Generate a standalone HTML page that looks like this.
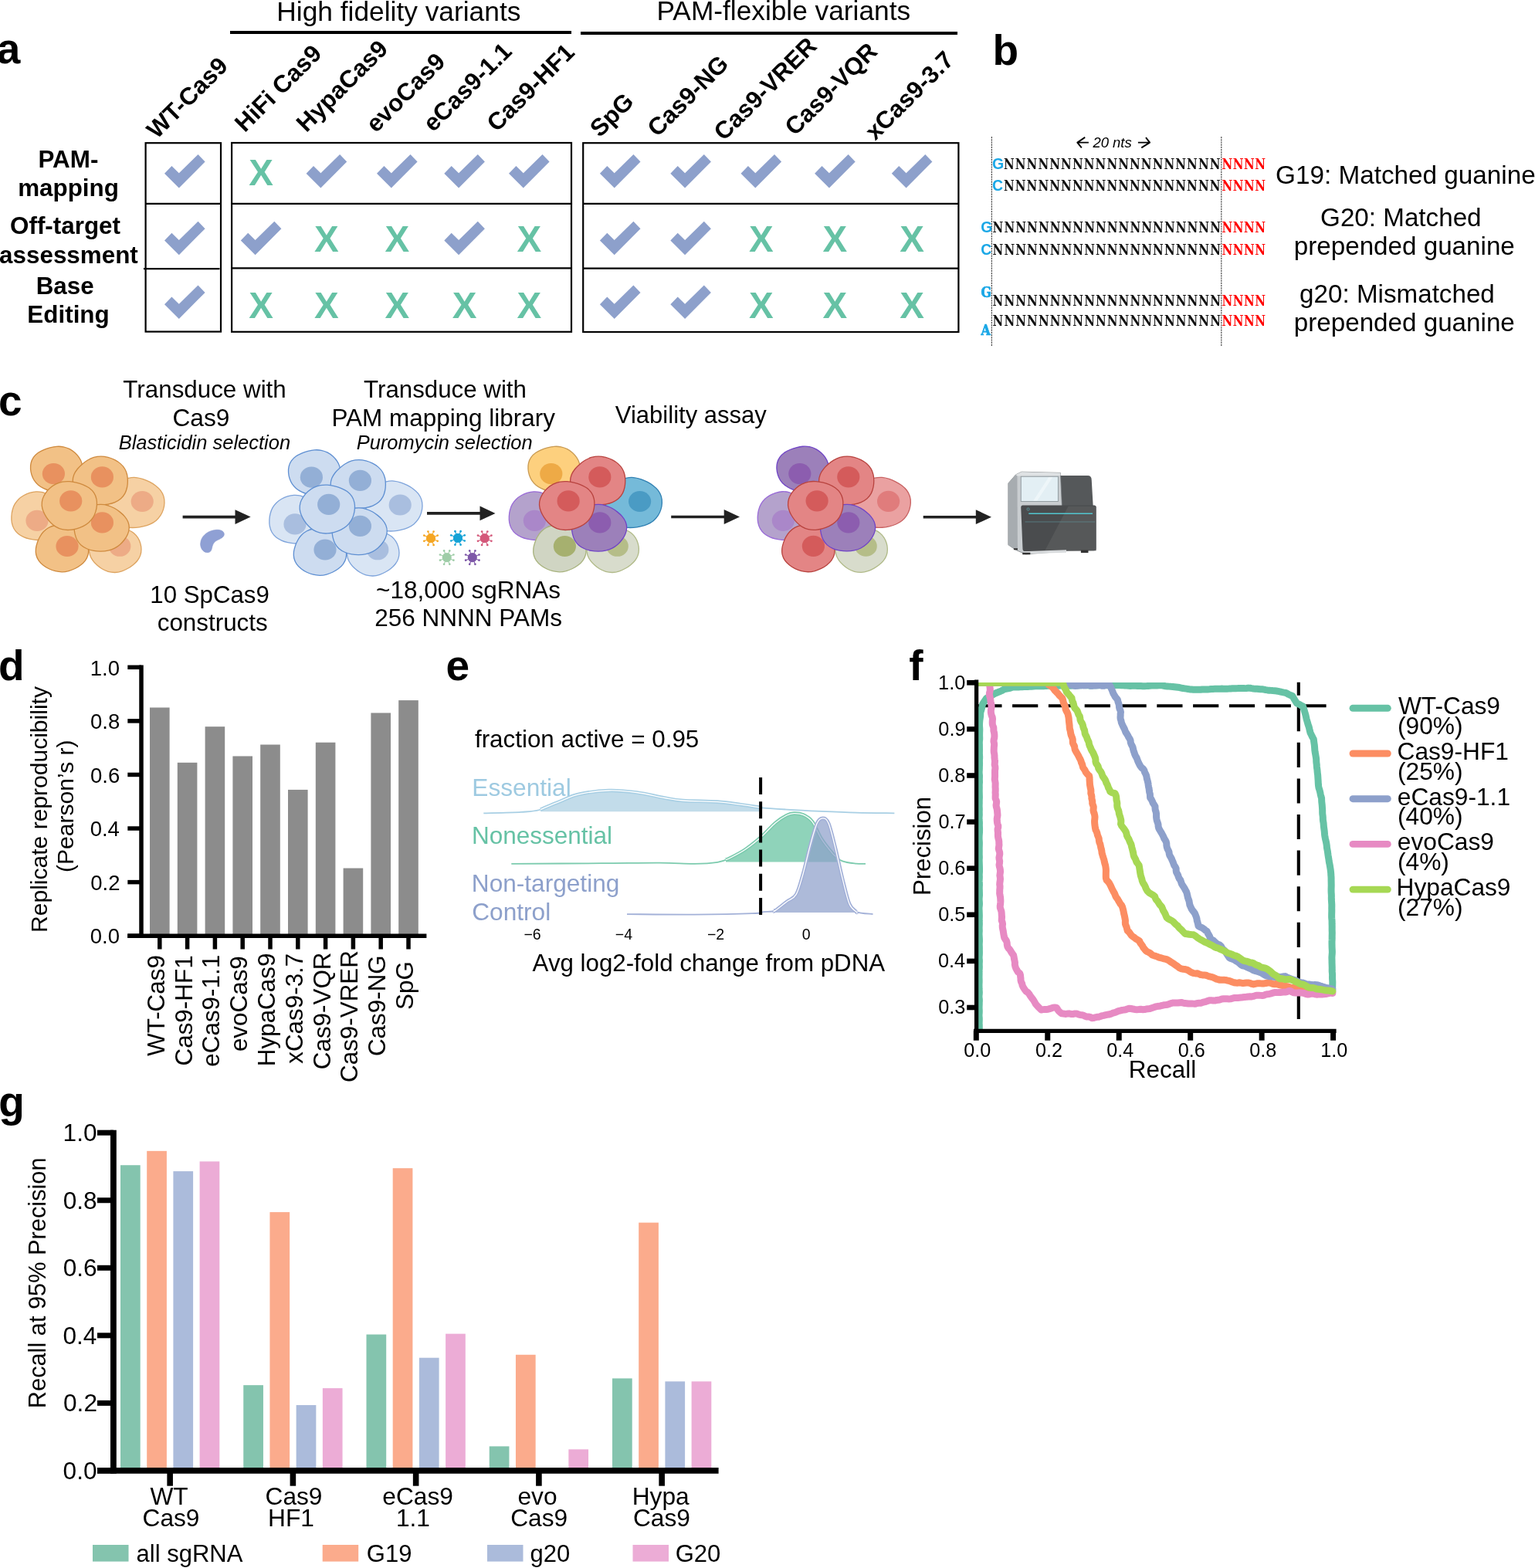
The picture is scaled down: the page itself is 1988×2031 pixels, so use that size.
<!DOCTYPE html>
<html><head><meta charset="utf-8"><title>Figure</title>
<style>
html,body{margin:0;padding:0;background:#fff;}
svg{display:block;}
</style></head>
<body>
<svg width="1988" height="2031" viewBox="0 0 1988 2031" font-family="'Liberation Sans', Arial, sans-serif">
<rect x="0" y="0" width="1988" height="2031" fill="#fff"/>
<text x="-4.30" y="82.10" font-size="55.00" font-weight="bold" fill="#000">a</text>
<text x="358.27" y="26.80" font-size="35.33" fill="#000">High fidelity variants</text>
<text x="850.48" y="25.80" font-size="35.27" fill="#000">PAM-flexible variants</text>
<line x1="298.00" y1="42.00" x2="740.00" y2="42.00" stroke="#000" stroke-width="4"/>
<line x1="752.00" y1="43.00" x2="1240.00" y2="43.00" stroke="#000" stroke-width="4"/>
<rect x="188.6" y="185.2" width="97.4" height="244.4" fill="none" stroke="#000" stroke-width="2.2"/>
<rect x="300.1" y="185.0" width="439.9" height="244.8" fill="none" stroke="#000" stroke-width="2.2"/>
<rect x="755.2" y="185.2" width="486.2" height="244.8" fill="none" stroke="#000" stroke-width="2.2"/>
<line x1="188.60" y1="263.80" x2="286.00" y2="263.80" stroke="#000" stroke-width="2.2"/>
<line x1="186.00" y1="348.20" x2="284.50" y2="348.20" stroke="#000" stroke-width="2.2"/>
<line x1="300.10" y1="263.80" x2="740.00" y2="263.80" stroke="#000" stroke-width="2.2"/>
<line x1="300.10" y1="347.40" x2="740.00" y2="347.40" stroke="#000" stroke-width="2.2"/>
<line x1="755.20" y1="263.80" x2="1241.40" y2="263.80" stroke="#000" stroke-width="2.2"/>
<line x1="755.20" y1="347.60" x2="1241.40" y2="347.60" stroke="#000" stroke-width="2.2"/>
<text x="49.46" y="216.60" font-size="31.40" font-weight="bold" fill="#000">PAM-</text>
<text x="23.16" y="254.00" font-size="31.40" font-weight="bold" fill="#000">mapping</text>
<text x="13.04" y="302.80" font-size="31.40" font-weight="bold" fill="#000">Off-target</text>
<text x="-0.94" y="340.60" font-size="31.40" font-weight="bold" fill="#000">assessment</text>
<text x="46.66" y="381.00" font-size="31.40" font-weight="bold" fill="#000">Base</text>
<text x="35.36" y="418.00" font-size="31.40" font-weight="bold" fill="#000">Editing</text>
<text x="203.00" y="181.00" font-size="31.40" font-weight="bold" fill="#000" transform="rotate(-45 203.00 181.00)">WT-Cas9</text>
<text x="317.10" y="172.40" font-size="31.40" font-weight="bold" fill="#000" transform="rotate(-45 317.10 172.40)">HiFi Cas9</text>
<text x="396.70" y="172.40" font-size="31.40" font-weight="bold" fill="#000" transform="rotate(-45 396.70 172.40)">HypaCas9</text>
<text x="487.00" y="173.00" font-size="31.40" font-weight="bold" fill="#000" transform="rotate(-45 487.00 173.00)">evoCas9</text>
<text x="561.00" y="172.00" font-size="31.40" font-weight="bold" fill="#000" transform="rotate(-45 561.00 172.00)">eCas9-1.1</text>
<text x="643.50" y="172.00" font-size="31.40" font-weight="bold" fill="#000" transform="rotate(-45 643.50 172.00)">Cas9-HF1</text>
<text x="777.00" y="179.00" font-size="31.40" font-weight="bold" fill="#000" transform="rotate(-45 777.00 179.00)">SpG</text>
<text x="851.50" y="178.50" font-size="31.40" font-weight="bold" fill="#000" transform="rotate(-45 851.50 178.50)">Cas9-NG</text>
<text x="937.50" y="183.50" font-size="31.40" font-weight="bold" fill="#000" transform="rotate(-45 937.50 183.50)">Cas9-VRER</text>
<text x="1029.50" y="177.00" font-size="31.40" font-weight="bold" fill="#000" transform="rotate(-45 1029.50 177.00)">Cas9-VQR</text>
<text x="1133.50" y="183.00" font-size="31.40" font-weight="bold" fill="#000" transform="rotate(-45 1133.50 183.00)">xCas9-3.7</text>
<polygon points="213.00,224.80 222.40,215.10 231.80,224.30 256.50,200.10 265.60,209.50 231.80,243.50" fill="#8DA0CB"/>
<text x="322.31" y="240.39" font-size="47.50" font-weight="bold" fill="#66C2A5">X</text>
<polygon points="396.60,224.80 406.00,215.10 415.40,224.30 440.10,200.10 449.20,209.50 415.40,243.50" fill="#8DA0CB"/>
<polygon points="488.00,224.80 497.40,215.10 506.80,224.30 531.50,200.10 540.60,209.50 506.80,243.50" fill="#8DA0CB"/>
<polygon points="575.30,224.80 584.70,215.10 594.10,224.30 618.80,200.10 627.90,209.50 594.10,243.50" fill="#8DA0CB"/>
<polygon points="659.00,224.80 668.40,215.10 677.80,224.30 702.50,200.10 711.60,209.50 677.80,243.50" fill="#8DA0CB"/>
<polygon points="776.90,224.80 786.30,215.10 795.70,224.30 820.40,200.10 829.50,209.50 795.70,243.50" fill="#8DA0CB"/>
<polygon points="868.30,224.80 877.70,215.10 887.10,224.30 911.80,200.10 920.90,209.50 887.10,243.50" fill="#8DA0CB"/>
<polygon points="959.50,224.80 968.90,215.10 978.30,224.30 1003.00,200.10 1012.10,209.50 978.30,243.50" fill="#8DA0CB"/>
<polygon points="1055.10,224.80 1064.50,215.10 1073.90,224.30 1098.60,200.10 1107.70,209.50 1073.90,243.50" fill="#8DA0CB"/>
<polygon points="1154.80,224.80 1164.20,215.10 1173.60,224.30 1198.30,200.10 1207.40,209.50 1173.60,243.50" fill="#8DA0CB"/>
<polygon points="213.00,311.50 222.40,301.80 231.80,311.00 256.50,286.80 265.60,296.20 231.80,330.20" fill="#8DA0CB"/>
<polygon points="311.80,311.50 321.20,301.80 330.60,311.00 355.30,286.80 364.40,296.20 330.60,330.20" fill="#8DA0CB"/>
<text x="407.11" y="326.29" font-size="47.50" font-weight="bold" fill="#66C2A5">X</text>
<text x="498.51" y="326.29" font-size="47.50" font-weight="bold" fill="#66C2A5">X</text>
<polygon points="575.30,311.50 584.70,301.80 594.10,311.00 618.80,286.80 627.90,296.20 594.10,330.20" fill="#8DA0CB"/>
<text x="669.51" y="326.29" font-size="47.50" font-weight="bold" fill="#66C2A5">X</text>
<polygon points="776.90,311.50 786.30,301.80 795.70,311.00 820.40,286.80 829.50,296.20 795.70,330.20" fill="#8DA0CB"/>
<polygon points="868.30,311.50 877.70,301.80 887.10,311.00 911.80,286.80 920.90,296.20 887.10,330.20" fill="#8DA0CB"/>
<text x="970.01" y="326.29" font-size="47.50" font-weight="bold" fill="#66C2A5">X</text>
<text x="1065.61" y="326.29" font-size="47.50" font-weight="bold" fill="#66C2A5">X</text>
<text x="1165.31" y="326.29" font-size="47.50" font-weight="bold" fill="#66C2A5">X</text>
<polygon points="213.00,394.20 222.40,384.50 231.80,393.70 256.50,369.50 265.60,378.90 231.80,412.90" fill="#8DA0CB"/>
<text x="322.31" y="411.99" font-size="47.50" font-weight="bold" fill="#66C2A5">X</text>
<text x="407.11" y="411.99" font-size="47.50" font-weight="bold" fill="#66C2A5">X</text>
<text x="498.51" y="411.99" font-size="47.50" font-weight="bold" fill="#66C2A5">X</text>
<text x="585.81" y="411.99" font-size="47.50" font-weight="bold" fill="#66C2A5">X</text>
<text x="669.51" y="411.99" font-size="47.50" font-weight="bold" fill="#66C2A5">X</text>
<polygon points="776.90,394.20 786.30,384.50 795.70,393.70 820.40,369.50 829.50,378.90 795.70,412.90" fill="#8DA0CB"/>
<polygon points="868.30,394.20 877.70,384.50 887.10,393.70 911.80,369.50 920.90,378.90 887.10,412.90" fill="#8DA0CB"/>
<text x="970.01" y="411.99" font-size="47.50" font-weight="bold" fill="#66C2A5">X</text>
<text x="1065.61" y="411.99" font-size="47.50" font-weight="bold" fill="#66C2A5">X</text>
<text x="1165.31" y="411.99" font-size="47.50" font-weight="bold" fill="#66C2A5">X</text>
<text x="1285.50" y="83.60" font-size="55.00" font-weight="bold" fill="#000">b</text>
<line x1="1284.40" y1="177.00" x2="1284.40" y2="449.00" stroke="#4a4a4a" stroke-width="1.2" stroke-dasharray="2.2 1.0"/>
<line x1="1581.80" y1="177.00" x2="1581.80" y2="449.00" stroke="#4a4a4a" stroke-width="1.2" stroke-dasharray="2.2 1.0"/>
<text x="1415.39" y="191.40" font-size="18.49" font-style="italic" fill="#000">20 nts</text>
<path d="M1405.2,177.9 L1395.3,184.6 L1400.8,191.4 M1395.6,184.6 L1409.9,184.6" fill="none" stroke="#000" stroke-width="1.9" stroke-linejoin="round"/>
<path d="M1484.0,178.2 L1489.1,184.6 L1478.3,191.4 M1488.8,184.6 L1473.9,184.6" fill="none" stroke="#000" stroke-width="1.9" stroke-linejoin="round"/>
<text x="1285.00" y="218.90" font-size="19.50" font-weight="bold" fill="#1AA7E6">G</text>
<g transform="translate(1300.00 218.90) scale(0.9 1)"><text x="0.00 16.47 32.93 49.40 65.87 82.33 98.80 115.27 131.73 148.20 164.67 181.13 197.60 214.07 230.53 247.00 263.47 279.93 296.40" y="0" font-size="18.6" font-weight="bold" font-family='"DejaVu Serif Condensed", "DejaVu Serif", serif' fill="#111">NNNNNNNNNNNNNNNNNNN</text></g>
<g transform="translate(1582.40 218.90) scale(0.9 1)"><text x="0.00 15.83 31.67 47.50" y="0" font-size="18.6" font-weight="bold" font-family='"DejaVu Serif Condensed", "DejaVu Serif", serif' fill="#FF0000">NNNN</text></g>
<text x="1285.00" y="246.80" font-size="19.50" font-weight="bold" fill="#1AA7E6">C</text>
<g transform="translate(1300.00 246.80) scale(0.9 1)"><text x="0.00 16.47 32.93 49.40 65.87 82.33 98.80 115.27 131.73 148.20 164.67 181.13 197.60 214.07 230.53 247.00 263.47 279.93 296.40" y="0" font-size="18.6" font-weight="bold" font-family='"DejaVu Serif Condensed", "DejaVu Serif", serif' fill="#111">NNNNNNNNNNNNNNNNNNN</text></g>
<g transform="translate(1582.40 246.80) scale(0.9 1)"><text x="0.00 15.83 31.67 47.50" y="0" font-size="18.6" font-weight="bold" font-family='"DejaVu Serif Condensed", "DejaVu Serif", serif' fill="#FF0000">NNNN</text></g>
<text x="1270.20" y="301.30" font-size="19.50" font-weight="bold" fill="#1AA7E6">G</text>
<g transform="translate(1285.60 301.30) scale(0.9 1)"><text x="0.00 16.47 32.93 49.40 65.87 82.33 98.80 115.27 131.73 148.20 164.67 181.13 197.60 214.07 230.53 247.00 263.47 279.93 296.40 312.87" y="0" font-size="18.6" font-weight="bold" font-family='"DejaVu Serif Condensed", "DejaVu Serif", serif' fill="#111">NNNNNNNNNNNNNNNNNNNN</text></g>
<g transform="translate(1582.40 301.30) scale(0.9 1)"><text x="0.00 15.83 31.67 47.50" y="0" font-size="18.6" font-weight="bold" font-family='"DejaVu Serif Condensed", "DejaVu Serif", serif' fill="#FF0000">NNNN</text></g>
<text x="1270.20" y="329.70" font-size="19.50" font-weight="bold" fill="#1AA7E6">C</text>
<g transform="translate(1285.60 329.70) scale(0.9 1)"><text x="0.00 16.47 32.93 49.40 65.87 82.33 98.80 115.27 131.73 148.20 164.67 181.13 197.60 214.07 230.53 247.00 263.47 279.93 296.40 312.87" y="0" font-size="18.6" font-weight="bold" font-family='"DejaVu Serif Condensed", "DejaVu Serif", serif' fill="#111">NNNNNNNNNNNNNNNNNNNN</text></g>
<g transform="translate(1582.40 329.70) scale(0.9 1)"><text x="0.00 15.83 31.67 47.50" y="0" font-size="18.6" font-weight="bold" font-family='"DejaVu Serif Condensed", "DejaVu Serif", serif' fill="#FF0000">NNNN</text></g>
<text x="1270.60" y="385.20" font-size="17.6" font-weight="bold" font-family='"DejaVu Serif Condensed", "DejaVu Serif", serif' fill="#1AA7E6" stroke="#1AA7E6" stroke-width="0.7">G</text>
<g transform="translate(1285.60 395.50) scale(0.9 1)"><text x="0.00 16.47 32.93 49.40 65.87 82.33 98.80 115.27 131.73 148.20 164.67 181.13 197.60 214.07 230.53 247.00 263.47 279.93 296.40 312.87" y="0" font-size="18.6" font-weight="bold" font-family='"DejaVu Serif Condensed", "DejaVu Serif", serif' fill="#111">NNNNNNNNNNNNNNNNNNNN</text></g>
<g transform="translate(1582.40 395.50) scale(0.9 1)"><text x="0.00 15.83 31.67 47.50" y="0" font-size="18.6" font-weight="bold" font-family='"DejaVu Serif Condensed", "DejaVu Serif", serif' fill="#FF0000">NNNN</text></g>
<text x="1270.60" y="434.20" font-size="17.6" font-weight="bold" font-family='"DejaVu Serif Condensed", "DejaVu Serif", serif' fill="#1AA7E6" stroke="#1AA7E6" stroke-width="0.7">A</text>
<g transform="translate(1285.60 422.20) scale(0.9 1)"><text x="0.00 16.47 32.93 49.40 65.87 82.33 98.80 115.27 131.73 148.20 164.67 181.13 197.60 214.07 230.53 247.00 263.47 279.93 296.40 312.87" y="0" font-size="18.6" font-weight="bold" font-family='"DejaVu Serif Condensed", "DejaVu Serif", serif' fill="#111">NNNNNNNNNNNNNNNNNNNN</text></g>
<g transform="translate(1582.40 422.20) scale(0.9 1)"><text x="0.00 15.83 31.67 47.50" y="0" font-size="18.6" font-weight="bold" font-family='"DejaVu Serif Condensed", "DejaVu Serif", serif' fill="#FF0000">NNNN</text></g>
<text x="1652.04" y="237.90" font-size="33.29" fill="#000">G19: Matched guanine</text>
<text x="1710.10" y="292.70" font-size="33.20" fill="#000">G20: Matched</text>
<text x="1675.78" y="329.80" font-size="33.20" fill="#000">prepended guanine</text>
<text x="1683.11" y="392.00" font-size="33.20" fill="#000">g20: Mismatched</text>
<text x="1675.78" y="429.40" font-size="33.20" fill="#000">prepended guanine</text>
<text x="-2.00" y="537.60" font-size="55.00" font-weight="bold" fill="#000">c</text>
<text x="159.37" y="514.90" font-size="31.35" fill="#000">Transduce with</text>
<text x="223.42" y="551.60" font-size="31.70" fill="#000">Cas9</text>
<text x="153.63" y="582.00" font-size="25.50" font-style="italic" fill="#000">Blasticidin selection</text>
<text x="471.07" y="514.90" font-size="31.28" fill="#000">Transduce with</text>
<text x="429.48" y="551.60" font-size="31.45" fill="#000">PAM mapping library</text>
<text x="461.74" y="581.80" font-size="25.48" font-style="italic" fill="#000">Puromycin selection</text>
<text x="796.84" y="547.90" font-size="31.02" fill="#000">Viability assay</text>
<text x="194.36" y="780.70" font-size="31.23" fill="#000">10 SpCas9</text>
<text x="203.74" y="817.40" font-size="31.38" fill="#000">constructs</text>
<text x="487.08" y="775.00" font-size="31.49" fill="#000">~18,000 sgRNAs</text>
<text x="485.22" y="811.40" font-size="31.52" fill="#000">256 NNNN PAMs</text>
<path d="M79.29,668.70 C79.42,671.41 79.04,674.30 78.30,676.93 C77.55,679.56 76.25,682.14 74.80,684.47 C73.34,686.80 71.55,689.01 69.57,690.93 C67.58,692.84 65.32,694.64 62.90,695.97 C60.47,697.30 57.72,698.32 55.02,698.90 C52.33,699.48 49.44,699.55 46.70,699.44 C43.96,699.32 41.24,698.83 38.57,698.20 C35.90,697.57 33.22,696.79 30.70,695.64 C28.18,694.49 25.56,693.11 23.45,691.30 C21.34,689.49 19.38,687.20 18.02,684.79 C16.66,682.39 15.82,679.56 15.30,676.88 C14.78,674.20 14.75,671.39 14.89,668.70 C15.02,666.01 15.40,663.32 16.09,660.73 C16.78,658.14 17.70,655.51 19.03,653.17 C20.35,650.82 22.08,648.56 24.03,646.66 C25.97,644.76 28.31,643.13 30.70,641.76 C33.08,640.38 35.69,639.25 38.36,638.43 C41.02,637.61 43.89,636.95 46.70,636.84 C49.51,636.72 52.54,636.97 55.24,637.73 C57.94,638.50 60.61,639.88 62.90,641.43 C65.19,642.98 67.17,645.03 68.99,647.04 C70.80,649.05 72.37,651.22 73.79,653.49 C75.21,655.77 76.59,658.14 77.50,660.68 C78.42,663.21 79.15,665.99 79.29,668.70Z" fill="#F6D1A4" stroke="#DDA35F" stroke-width="1.3"/>
<ellipse cx="48.00" cy="674.40" rx="14.60" ry="13.58" fill="#EDAB86"/>
<path d="M212.97,651.40 C212.90,654.22 212.36,657.11 211.51,659.82 C210.67,662.54 209.49,665.27 207.89,667.70 C206.30,670.13 204.26,672.48 201.96,674.38 C199.65,676.28 196.86,677.85 194.07,679.11 C191.28,680.36 188.25,681.21 185.24,681.91 C182.22,682.62 179.14,683.13 176.00,683.33 C172.86,683.53 169.54,683.62 166.40,683.11 C163.26,682.60 159.95,681.68 157.16,680.28 C154.38,678.88 151.78,676.84 149.67,674.71 C147.56,672.58 145.91,670.01 144.50,667.50 C143.09,664.99 142.01,662.33 141.22,659.65 C140.44,656.97 139.84,654.17 139.77,651.40 C139.70,648.63 140.02,645.74 140.81,643.05 C141.59,640.37 142.93,637.72 144.50,635.30 C146.07,632.88 148.04,630.61 150.20,628.56 C152.36,626.51 154.79,624.53 157.47,622.99 C160.15,621.45 163.20,620.06 166.29,619.32 C169.38,618.58 172.82,618.33 176.00,618.53 C179.18,618.73 182.39,619.58 185.35,620.52 C188.31,621.46 191.08,622.77 193.76,624.16 C196.44,625.56 199.07,627.07 201.43,628.89 C203.78,630.71 206.14,632.77 207.89,635.10 C209.64,637.43 211.08,640.16 211.93,642.88 C212.78,645.59 213.04,648.58 212.97,651.40Z" fill="#F6D1A4" stroke="#DDA35F" stroke-width="1.3"/>
<ellipse cx="184.20" cy="649.50" rx="14.60" ry="13.58" fill="#EDAB86"/>
<path d="M183.00,711.50 C183.00,714.03 182.66,716.68 181.84,719.10 C181.02,721.52 179.66,723.91 178.08,726.00 C176.49,728.10 174.44,729.96 172.35,731.67 C170.26,733.38 167.97,734.90 165.55,736.26 C163.12,737.62 160.54,738.95 157.78,739.82 C155.03,740.69 151.96,741.39 149.00,741.49 C146.04,741.58 142.86,741.15 140.04,740.38 C137.22,739.60 134.51,738.24 132.08,736.81 C129.65,735.39 127.45,733.66 125.46,731.84 C123.46,730.02 121.59,728.05 120.10,725.91 C118.61,723.78 117.31,721.42 116.53,719.02 C115.75,716.61 115.39,714.00 115.40,711.50 C115.40,709.00 115.85,706.44 116.54,703.99 C117.23,701.54 118.20,699.07 119.53,696.80 C120.87,694.53 122.51,692.23 124.55,690.37 C126.58,688.52 129.12,686.84 131.75,685.68 C134.37,684.52 137.41,683.84 140.29,683.41 C143.16,682.97 146.12,682.99 149.00,683.09 C151.88,683.18 154.73,683.44 157.54,683.97 C160.35,684.49 163.26,685.14 165.88,686.24 C168.50,687.34 171.13,688.80 173.26,690.54 C175.38,692.29 177.21,694.49 178.64,696.71 C180.07,698.94 181.10,701.44 181.83,703.90 C182.55,706.37 182.99,708.97 183.00,711.50Z" fill="#F6D1A4" stroke="#DDA35F" stroke-width="1.3"/>
<ellipse cx="155.10" cy="707.50" rx="14.30" ry="13.30" fill="#EDAB86"/>
<path d="M106.76,607.50 C106.62,610.02 105.90,612.58 105.04,614.96 C104.17,617.35 102.94,619.63 101.57,621.83 C100.21,624.04 98.69,626.23 96.83,628.17 C94.96,630.12 92.81,632.09 90.36,633.51 C87.91,634.93 85.00,636.08 82.14,636.69 C79.28,637.30 76.12,637.35 73.20,637.16 C70.28,636.98 67.36,636.33 64.60,635.57 C61.84,634.81 59.14,633.83 56.64,632.59 C54.14,631.35 51.68,629.89 49.61,628.14 C47.55,626.40 45.69,624.30 44.26,622.12 C42.82,619.94 41.77,617.49 40.98,615.05 C40.20,612.62 39.71,610.05 39.56,607.50 C39.42,604.95 39.49,602.26 40.13,599.75 C40.76,597.24 41.85,594.63 43.38,592.43 C44.91,590.24 47.08,588.24 49.31,586.60 C51.54,584.95 54.19,583.70 56.76,582.59 C59.33,581.47 62.01,580.60 64.75,579.89 C67.49,579.19 70.32,578.55 73.20,578.36 C76.08,578.18 79.16,578.23 82.00,578.78 C84.84,579.33 87.72,580.37 90.24,581.67 C92.77,582.97 95.09,584.72 97.13,586.56 C99.16,588.40 100.99,590.51 102.45,592.72 C103.91,594.93 105.18,597.37 105.89,599.83 C106.61,602.30 106.91,604.98 106.76,607.50Z" fill="#F2C186" stroke="#CF8A3E" stroke-width="1.3"/>
<ellipse cx="69.40" cy="613.70" rx="14.60" ry="13.58" fill="#E8915F"/>
<path d="M165.38,623.00 C165.37,625.67 165.17,628.36 164.60,631.01 C164.03,633.66 163.29,636.44 161.96,638.92 C160.62,641.39 158.80,643.89 156.60,645.85 C154.41,647.80 151.59,649.43 148.80,650.65 C146.01,651.86 142.87,652.60 139.86,653.15 C136.84,653.69 133.75,653.94 130.70,653.93 C127.65,653.91 124.52,653.70 121.57,653.05 C118.62,652.40 115.63,651.39 112.99,650.05 C110.35,648.72 107.89,646.93 105.72,645.03 C103.55,643.13 101.62,640.94 99.98,638.64 C98.33,636.34 96.82,633.84 95.85,631.24 C94.89,628.63 94.18,625.75 94.18,623.00 C94.17,620.25 94.80,617.34 95.82,614.76 C96.84,612.18 98.56,609.74 100.29,607.52 C102.03,605.30 104.11,603.32 106.26,601.44 C108.41,599.56 110.67,597.75 113.20,596.26 C115.73,594.77 118.51,593.34 121.43,592.48 C124.35,591.63 127.61,591.14 130.70,591.13 C133.79,591.11 137.02,591.63 140.00,592.39 C142.98,593.15 145.91,594.29 148.59,595.67 C151.27,597.04 153.89,598.70 156.07,600.63 C158.24,602.56 160.21,604.85 161.64,607.24 C163.07,609.64 164.00,612.36 164.63,614.98 C165.25,617.61 165.38,620.33 165.38,623.00Z" fill="#F2C186" stroke="#CF8A3E" stroke-width="1.3"/>
<ellipse cx="132.40" cy="617.90" rx="14.60" ry="13.58" fill="#E8915F"/>
<path d="M114.45,710.40 C114.72,713.05 114.70,715.92 114.03,718.53 C113.35,721.14 112.03,723.80 110.42,726.05 C108.81,728.31 106.59,730.31 104.36,732.05 C102.13,733.80 99.62,735.27 97.06,736.53 C94.50,737.79 91.79,738.90 89.00,739.62 C86.21,740.34 83.21,740.81 80.30,740.83 C77.39,740.85 74.38,740.43 71.56,739.74 C68.75,739.06 66.00,737.98 63.42,736.72 C60.84,735.46 58.30,733.97 56.09,732.19 C53.87,730.42 51.70,728.35 50.14,726.07 C48.59,723.79 47.38,721.10 46.77,718.49 C46.15,715.88 46.19,713.03 46.45,710.40 C46.72,707.77 47.50,705.18 48.34,702.69 C49.19,700.20 50.21,697.77 51.53,695.45 C52.85,693.13 54.35,690.77 56.28,688.78 C58.20,686.79 60.54,684.91 63.06,683.53 C65.58,682.15 68.53,681.15 71.40,680.50 C74.27,679.85 77.34,679.61 80.30,679.63 C83.26,679.65 86.31,679.95 89.16,680.63 C92.02,681.31 94.92,682.34 97.42,683.72 C99.92,685.10 102.23,686.96 104.17,688.92 C106.11,690.88 107.65,693.18 109.03,695.47 C110.41,697.76 111.55,700.16 112.45,702.65 C113.35,705.14 114.19,707.75 114.45,710.40Z" fill="#F2C186" stroke="#CF8A3E" stroke-width="1.3"/>
<ellipse cx="87.00" cy="707.50" rx="14.60" ry="13.58" fill="#E8915F"/>
<path d="M167.27,684.00 C167.19,686.65 166.39,689.41 165.37,691.91 C164.36,694.41 162.83,696.78 161.20,698.99 C159.56,701.19 157.68,703.30 155.54,705.14 C153.41,706.99 151.00,708.74 148.38,710.06 C145.77,711.39 142.80,712.42 139.85,713.08 C136.91,713.74 133.76,714.00 130.70,714.04 C127.64,714.08 124.50,713.85 121.48,713.30 C118.45,712.76 115.31,711.99 112.54,710.77 C109.78,709.54 107.03,707.89 104.89,705.97 C102.75,704.05 101.02,701.61 99.71,699.23 C98.41,696.84 97.67,694.21 97.06,691.67 C96.46,689.13 96.15,686.57 96.07,684.00 C95.99,681.43 96.02,678.78 96.60,676.22 C97.18,673.67 98.10,671.01 99.53,668.69 C100.97,666.36 102.99,664.14 105.20,662.29 C107.40,660.44 110.08,658.87 112.78,657.58 C115.49,656.29 118.44,655.23 121.43,654.54 C124.41,653.85 127.62,653.40 130.70,653.44 C133.78,653.48 137.00,653.96 139.90,654.77 C142.81,655.57 145.59,656.89 148.14,658.28 C150.70,659.68 153.03,661.34 155.23,663.12 C157.44,664.89 159.61,666.78 161.37,668.93 C163.14,671.07 164.85,673.47 165.84,675.99 C166.82,678.50 167.35,681.35 167.27,684.00Z" fill="#F2C186" stroke="#CF8A3E" stroke-width="1.3"/>
<ellipse cx="132.40" cy="676.90" rx="14.60" ry="13.58" fill="#E8915F"/>
<path d="M125.39,654.60 C125.22,657.31 124.72,660.02 123.91,662.62 C123.11,665.21 122.05,667.83 120.57,670.17 C119.09,672.51 117.18,674.78 115.03,676.67 C112.87,678.57 110.28,680.19 107.64,681.55 C105.00,682.90 102.12,683.99 99.18,684.81 C96.24,685.63 93.11,686.29 90.00,686.45 C86.89,686.60 83.55,686.45 80.54,685.74 C77.53,685.03 74.51,683.72 71.95,682.17 C69.39,680.63 67.17,678.54 65.19,676.49 C63.20,674.43 61.56,672.17 60.05,669.85 C58.55,667.54 57.13,665.14 56.16,662.60 C55.18,660.06 54.36,657.31 54.19,654.60 C54.02,651.89 54.35,649.00 55.14,646.36 C55.93,643.72 57.32,641.12 58.91,638.77 C60.50,636.42 62.49,634.20 64.68,632.27 C66.87,630.33 69.36,628.51 72.04,627.16 C74.72,625.81 77.76,624.73 80.75,624.15 C83.74,623.56 86.96,623.49 90.00,623.65 C93.04,623.80 96.04,624.39 98.97,625.08 C101.89,625.77 104.79,626.62 107.55,627.79 C110.31,628.96 113.17,630.30 115.53,632.08 C117.89,633.86 120.14,636.07 121.71,638.45 C123.28,640.83 124.32,643.65 124.93,646.34 C125.54,649.04 125.56,651.89 125.39,654.60Z" fill="#F2C186" stroke="#CF8A3E" stroke-width="1.3"/>
<ellipse cx="91.70" cy="648.90" rx="14.60" ry="13.58" fill="#E8915F"/>
<path d="M413.29,673.20 C413.42,675.91 413.04,678.80 412.30,681.43 C411.55,684.06 410.25,686.64 408.80,688.97 C407.34,691.30 405.55,693.51 403.57,695.43 C401.58,697.34 399.32,699.14 396.90,700.47 C394.47,701.80 391.72,702.82 389.02,703.40 C386.33,703.98 383.44,704.05 380.70,703.94 C377.96,703.82 375.24,703.33 372.57,702.70 C369.90,702.07 367.22,701.29 364.70,700.14 C362.18,698.99 359.56,697.61 357.45,695.80 C355.34,693.99 353.38,691.70 352.02,689.29 C350.66,686.89 349.82,684.06 349.30,681.38 C348.78,678.70 348.75,675.89 348.89,673.20 C349.02,670.51 349.40,667.82 350.09,665.23 C350.78,662.64 351.70,660.01 353.03,657.67 C354.35,655.32 356.08,653.06 358.03,651.16 C359.97,649.26 362.31,647.63 364.70,646.26 C367.08,644.88 369.69,643.75 372.36,642.93 C375.02,642.11 377.89,641.45 380.70,641.34 C383.51,641.22 386.54,641.47 389.24,642.23 C391.94,643.00 394.61,644.38 396.90,645.93 C399.19,647.48 401.17,649.53 402.99,651.54 C404.80,653.55 406.37,655.72 407.79,657.99 C409.21,660.27 410.59,662.64 411.50,665.18 C412.42,667.71 413.15,670.49 413.29,673.20Z" fill="#D9E5F4" stroke="#7DA3DB" stroke-width="1.3"/>
<ellipse cx="382.00" cy="678.90" rx="14.60" ry="13.58" fill="#A9BEDF"/>
<path d="M546.97,655.90 C546.90,658.72 546.36,661.61 545.51,664.32 C544.67,667.04 543.49,669.77 541.89,672.20 C540.30,674.63 538.26,676.98 535.96,678.88 C533.65,680.78 530.86,682.35 528.07,683.61 C525.28,684.86 522.25,685.71 519.24,686.41 C516.22,687.12 513.14,687.63 510.00,687.83 C506.86,688.03 503.54,688.12 500.40,687.61 C497.26,687.10 493.95,686.18 491.16,684.78 C488.38,683.38 485.78,681.34 483.67,679.21 C481.56,677.08 479.91,674.51 478.50,672.00 C477.09,669.49 476.01,666.83 475.22,664.15 C474.44,661.47 473.84,658.67 473.77,655.90 C473.70,653.13 474.02,650.24 474.81,647.55 C475.59,644.87 476.93,642.22 478.50,639.80 C480.07,637.38 482.04,635.11 484.20,633.06 C486.36,631.01 488.79,629.03 491.47,627.49 C494.15,625.95 497.20,624.56 500.29,623.82 C503.38,623.08 506.82,622.83 510.00,623.03 C513.18,623.23 516.39,624.08 519.35,625.02 C522.31,625.96 525.08,627.27 527.76,628.66 C530.44,630.06 533.07,631.57 535.43,633.39 C537.78,635.21 540.14,637.27 541.89,639.60 C543.64,641.93 545.08,644.66 545.93,647.38 C546.78,650.09 547.04,653.08 546.97,655.90Z" fill="#D9E5F4" stroke="#7DA3DB" stroke-width="1.3"/>
<ellipse cx="518.20" cy="654.00" rx="14.60" ry="13.58" fill="#A9BEDF"/>
<path d="M517.00,716.00 C517.00,718.53 516.66,721.18 515.84,723.60 C515.02,726.02 513.66,728.41 512.08,730.50 C510.49,732.60 508.44,734.46 506.35,736.17 C504.26,737.88 501.97,739.40 499.55,740.76 C497.12,742.12 494.54,743.45 491.78,744.32 C489.03,745.19 485.96,745.89 483.00,745.99 C480.04,746.08 476.86,745.65 474.04,744.88 C471.22,744.10 468.51,742.74 466.08,741.31 C463.65,739.89 461.45,738.16 459.46,736.34 C457.46,734.52 455.59,732.55 454.10,730.41 C452.61,728.28 451.31,725.92 450.53,723.52 C449.75,721.11 449.39,718.50 449.40,716.00 C449.40,713.50 449.85,710.94 450.54,708.49 C451.23,706.04 452.20,703.57 453.53,701.30 C454.87,699.03 456.51,696.73 458.55,694.87 C460.58,693.02 463.12,691.34 465.75,690.18 C468.37,689.02 471.41,688.34 474.29,687.91 C477.16,687.47 480.12,687.49 483.00,687.59 C485.88,687.68 488.73,687.94 491.54,688.47 C494.35,688.99 497.26,689.64 499.88,690.74 C502.50,691.84 505.13,693.30 507.26,695.04 C509.38,696.79 511.21,698.99 512.64,701.21 C514.07,703.44 515.10,705.94 515.83,708.40 C516.55,710.87 516.99,713.47 517.00,716.00Z" fill="#D9E5F4" stroke="#7DA3DB" stroke-width="1.3"/>
<ellipse cx="489.10" cy="712.00" rx="14.30" ry="13.30" fill="#A9BEDF"/>
<path d="M440.76,612.00 C440.62,614.52 439.90,617.08 439.04,619.46 C438.17,621.85 436.94,624.13 435.57,626.33 C434.21,628.54 432.69,630.73 430.83,632.67 C428.96,634.62 426.81,636.59 424.36,638.01 C421.91,639.43 419.00,640.58 416.14,641.19 C413.28,641.80 410.12,641.85 407.20,641.66 C404.28,641.48 401.36,640.83 398.60,640.07 C395.84,639.31 393.14,638.33 390.64,637.09 C388.14,635.85 385.68,634.39 383.61,632.64 C381.55,630.90 379.69,628.80 378.26,626.62 C376.82,624.44 375.77,621.99 374.98,619.55 C374.20,617.12 373.71,614.55 373.56,612.00 C373.42,609.45 373.49,606.76 374.13,604.25 C374.76,601.74 375.85,599.13 377.38,596.93 C378.91,594.74 381.08,592.74 383.31,591.10 C385.54,589.45 388.19,588.20 390.76,587.09 C393.33,585.97 396.01,585.10 398.75,584.39 C401.49,583.69 404.32,583.05 407.20,582.86 C410.08,582.68 413.16,582.73 416.00,583.28 C418.84,583.83 421.72,584.87 424.24,586.17 C426.77,587.47 429.09,589.22 431.13,591.06 C433.16,592.90 434.99,595.01 436.45,597.22 C437.91,599.43 439.18,601.87 439.89,604.33 C440.61,606.80 440.91,609.48 440.76,612.00Z" fill="#CDDCF0" stroke="#5E8FD2" stroke-width="1.3"/>
<ellipse cx="403.40" cy="618.20" rx="14.60" ry="13.58" fill="#93AFD6"/>
<path d="M499.38,627.50 C499.37,630.17 499.17,632.86 498.60,635.51 C498.03,638.16 497.29,640.94 495.96,643.42 C494.62,645.89 492.80,648.39 490.60,650.35 C488.41,652.30 485.59,653.93 482.80,655.15 C480.01,656.36 476.87,657.10 473.86,657.65 C470.84,658.19 467.75,658.44 464.70,658.43 C461.65,658.41 458.52,658.20 455.57,657.55 C452.62,656.90 449.63,655.89 446.99,654.55 C444.35,653.22 441.89,651.43 439.72,649.53 C437.55,647.63 435.62,645.44 433.98,643.14 C432.33,640.84 430.82,638.34 429.85,635.74 C428.89,633.13 428.18,630.25 428.18,627.50 C428.17,624.75 428.80,621.84 429.82,619.26 C430.84,616.68 432.56,614.24 434.29,612.02 C436.03,609.80 438.11,607.82 440.26,605.94 C442.41,604.06 444.67,602.25 447.20,600.76 C449.73,599.27 452.51,597.84 455.43,596.98 C458.35,596.13 461.61,595.64 464.70,595.63 C467.79,595.61 471.02,596.13 474.00,596.89 C476.98,597.65 479.91,598.79 482.59,600.17 C485.27,601.54 487.89,603.20 490.07,605.13 C492.24,607.06 494.21,609.35 495.64,611.74 C497.07,614.14 498.00,616.86 498.63,619.48 C499.25,622.11 499.38,624.83 499.38,627.50Z" fill="#CDDCF0" stroke="#5E8FD2" stroke-width="1.3"/>
<ellipse cx="466.40" cy="622.40" rx="14.60" ry="13.58" fill="#93AFD6"/>
<path d="M448.45,714.90 C448.72,717.55 448.70,720.42 448.03,723.03 C447.35,725.64 446.03,728.30 444.42,730.55 C442.81,732.81 440.59,734.81 438.36,736.55 C436.13,738.30 433.62,739.77 431.06,741.03 C428.50,742.29 425.79,743.40 423.00,744.12 C420.21,744.84 417.21,745.31 414.30,745.33 C411.39,745.35 408.38,744.93 405.56,744.24 C402.75,743.56 400.00,742.48 397.42,741.22 C394.84,739.96 392.30,738.47 390.09,736.69 C387.87,734.92 385.70,732.85 384.14,730.57 C382.59,728.29 381.38,725.60 380.77,722.99 C380.15,720.38 380.19,717.53 380.45,714.90 C380.72,712.27 381.50,709.68 382.34,707.19 C383.19,704.70 384.21,702.27 385.53,699.95 C386.85,697.63 388.35,695.27 390.28,693.28 C392.20,691.29 394.54,689.41 397.06,688.03 C399.58,686.65 402.53,685.65 405.40,685.00 C408.27,684.35 411.34,684.11 414.30,684.13 C417.26,684.15 420.31,684.45 423.16,685.13 C426.02,685.81 428.92,686.84 431.42,688.22 C433.92,689.60 436.23,691.46 438.17,693.42 C440.11,695.38 441.65,697.68 443.03,699.97 C444.41,702.26 445.55,704.66 446.45,707.15 C447.35,709.64 448.19,712.25 448.45,714.90Z" fill="#CDDCF0" stroke="#5E8FD2" stroke-width="1.3"/>
<ellipse cx="421.00" cy="712.00" rx="14.60" ry="13.58" fill="#93AFD6"/>
<path d="M501.27,688.50 C501.19,691.15 500.39,693.91 499.37,696.41 C498.36,698.91 496.83,701.28 495.20,703.49 C493.56,705.69 491.68,707.80 489.54,709.64 C487.41,711.49 485.00,713.24 482.38,714.56 C479.77,715.89 476.80,716.92 473.85,717.58 C470.91,718.24 467.76,718.50 464.70,718.54 C461.64,718.58 458.50,718.35 455.48,717.80 C452.45,717.26 449.31,716.49 446.54,715.27 C443.78,714.04 441.03,712.39 438.89,710.47 C436.75,708.55 435.02,706.11 433.71,703.73 C432.41,701.34 431.67,698.71 431.06,696.17 C430.46,693.63 430.15,691.07 430.07,688.50 C429.99,685.93 430.02,683.28 430.60,680.72 C431.18,678.17 432.10,675.51 433.53,673.19 C434.97,670.86 436.99,668.64 439.20,666.79 C441.40,664.94 444.08,663.37 446.78,662.08 C449.49,660.79 452.44,659.73 455.43,659.04 C458.41,658.35 461.62,657.90 464.70,657.94 C467.78,657.98 471.00,658.46 473.90,659.27 C476.81,660.07 479.59,661.39 482.14,662.78 C484.70,664.18 487.03,665.84 489.23,667.62 C491.44,669.39 493.61,671.28 495.37,673.43 C497.14,675.57 498.85,677.97 499.84,680.49 C500.82,683.00 501.35,685.85 501.27,688.50Z" fill="#CDDCF0" stroke="#5E8FD2" stroke-width="1.3"/>
<ellipse cx="466.40" cy="681.40" rx="14.60" ry="13.58" fill="#93AFD6"/>
<path d="M459.39,659.10 C459.22,661.81 458.72,664.52 457.91,667.12 C457.11,669.71 456.05,672.33 454.57,674.67 C453.09,677.01 451.18,679.28 449.03,681.17 C446.87,683.07 444.28,684.69 441.64,686.05 C439.00,687.40 436.12,688.49 433.18,689.31 C430.24,690.13 427.11,690.79 424.00,690.95 C420.89,691.10 417.55,690.95 414.54,690.24 C411.53,689.53 408.51,688.22 405.95,686.67 C403.39,685.13 401.17,683.04 399.19,680.99 C397.20,678.93 395.56,676.67 394.05,674.35 C392.55,672.04 391.13,669.64 390.16,667.10 C389.18,664.56 388.36,661.81 388.19,659.10 C388.02,656.39 388.35,653.50 389.14,650.86 C389.93,648.22 391.32,645.62 392.91,643.27 C394.50,640.92 396.49,638.70 398.68,636.77 C400.87,634.83 403.36,633.01 406.04,631.66 C408.72,630.31 411.76,629.23 414.75,628.65 C417.74,628.06 420.96,627.99 424.00,628.15 C427.04,628.30 430.04,628.89 432.97,629.58 C435.89,630.27 438.79,631.12 441.55,632.29 C444.31,633.46 447.17,634.80 449.53,636.58 C451.89,638.36 454.14,640.57 455.71,642.95 C457.28,645.33 458.32,648.15 458.93,650.84 C459.54,653.54 459.56,656.39 459.39,659.10Z" fill="#CDDCF0" stroke="#5E8FD2" stroke-width="1.3"/>
<ellipse cx="425.70" cy="653.40" rx="14.60" ry="13.58" fill="#93AFD6"/>
<path d="M723.69,668.70 C723.82,671.41 723.44,674.30 722.70,676.93 C721.95,679.56 720.65,682.14 719.20,684.47 C717.74,686.80 715.95,689.01 713.97,690.93 C711.98,692.84 709.72,694.64 707.30,695.97 C704.87,697.30 702.12,698.32 699.42,698.90 C696.73,699.48 693.84,699.55 691.10,699.44 C688.36,699.32 685.64,698.83 682.97,698.20 C680.30,697.57 677.62,696.79 675.10,695.64 C672.58,694.49 669.96,693.11 667.85,691.30 C665.74,689.49 663.78,687.20 662.42,684.79 C661.06,682.39 660.22,679.56 659.70,676.88 C659.18,674.20 659.15,671.39 659.29,668.70 C659.42,666.01 659.80,663.32 660.49,660.73 C661.18,658.14 662.10,655.51 663.43,653.17 C664.75,650.82 666.48,648.56 668.43,646.66 C670.37,644.76 672.71,643.13 675.10,641.76 C677.48,640.38 680.09,639.25 682.76,638.43 C685.42,637.61 688.29,636.95 691.10,636.84 C693.91,636.72 696.94,636.97 699.64,637.73 C702.34,638.50 705.01,639.88 707.30,641.43 C709.59,642.98 711.57,645.03 713.39,647.04 C715.20,649.05 716.77,651.22 718.19,653.49 C719.61,655.77 720.99,658.14 721.90,660.68 C722.82,663.21 723.55,665.99 723.69,668.70Z" fill="#B4A2CC" stroke="#9A6BD8" stroke-width="1.3"/>
<ellipse cx="692.40" cy="674.40" rx="14.60" ry="13.58" fill="#AA87C9"/>
<path d="M857.37,651.40 C857.30,654.22 856.76,657.11 855.91,659.82 C855.07,662.54 853.89,665.27 852.29,667.70 C850.70,670.13 848.66,672.48 846.36,674.38 C844.05,676.28 841.26,677.85 838.47,679.11 C835.68,680.36 832.65,681.21 829.64,681.91 C826.62,682.62 823.54,683.13 820.40,683.33 C817.26,683.53 813.94,683.62 810.80,683.11 C807.66,682.60 804.35,681.68 801.56,680.28 C798.78,678.88 796.18,676.84 794.07,674.71 C791.96,672.58 790.31,670.01 788.90,667.50 C787.49,664.99 786.41,662.33 785.62,659.65 C784.84,656.97 784.24,654.17 784.17,651.40 C784.10,648.63 784.42,645.74 785.21,643.05 C785.99,640.37 787.33,637.72 788.90,635.30 C790.47,632.88 792.44,630.61 794.60,628.56 C796.76,626.51 799.19,624.53 801.87,622.99 C804.55,621.45 807.60,620.06 810.69,619.32 C813.78,618.58 817.22,618.33 820.40,618.53 C823.58,618.73 826.79,619.58 829.75,620.52 C832.71,621.46 835.48,622.77 838.16,624.16 C840.84,625.56 843.47,627.07 845.83,628.89 C848.18,630.71 850.54,632.77 852.29,635.10 C854.04,637.43 855.48,640.16 856.33,642.88 C857.18,645.59 857.44,648.58 857.37,651.40Z" fill="#75BAD9" stroke="#2F7FB2" stroke-width="1.3"/>
<ellipse cx="828.60" cy="649.50" rx="14.60" ry="13.58" fill="#4A9BC4"/>
<path d="M827.40,711.50 C827.40,714.03 827.06,716.68 826.24,719.10 C825.42,721.52 824.06,723.91 822.48,726.00 C820.89,728.10 818.84,729.96 816.75,731.67 C814.66,733.38 812.37,734.90 809.95,736.26 C807.52,737.62 804.94,738.95 802.18,739.82 C799.43,740.69 796.36,741.39 793.40,741.49 C790.44,741.58 787.26,741.15 784.44,740.38 C781.62,739.60 778.91,738.24 776.48,736.81 C774.05,735.39 771.85,733.66 769.86,731.84 C767.86,730.02 765.99,728.05 764.50,725.91 C763.01,723.78 761.71,721.42 760.93,719.02 C760.15,716.61 759.79,714.00 759.80,711.50 C759.80,709.00 760.25,706.44 760.94,703.99 C761.63,701.54 762.60,699.07 763.93,696.80 C765.27,694.53 766.91,692.23 768.95,690.37 C770.98,688.52 773.52,686.84 776.15,685.68 C778.77,684.52 781.81,683.84 784.69,683.41 C787.56,682.97 790.52,682.99 793.40,683.09 C796.28,683.18 799.13,683.44 801.94,683.97 C804.75,684.49 807.66,685.14 810.28,686.24 C812.90,687.34 815.53,688.80 817.66,690.54 C819.78,692.29 821.61,694.49 823.04,696.71 C824.47,698.94 825.50,701.44 826.23,703.90 C826.95,706.37 827.39,708.97 827.40,711.50Z" fill="#D8DCCC" stroke="#B0BA88" stroke-width="1.3"/>
<ellipse cx="799.50" cy="707.50" rx="14.30" ry="13.30" fill="#B5BD88"/>
<path d="M751.16,607.50 C751.02,610.02 750.30,612.58 749.44,614.96 C748.57,617.35 747.34,619.63 745.97,621.83 C744.61,624.04 743.09,626.23 741.23,628.17 C739.36,630.12 737.21,632.09 734.76,633.51 C732.31,634.93 729.40,636.08 726.54,636.69 C723.68,637.30 720.52,637.35 717.60,637.16 C714.68,636.98 711.76,636.33 709.00,635.57 C706.24,634.81 703.54,633.83 701.04,632.59 C698.54,631.35 696.08,629.89 694.01,628.14 C691.95,626.40 690.09,624.30 688.66,622.12 C687.22,619.94 686.17,617.49 685.38,615.05 C684.60,612.62 684.11,610.05 683.96,607.50 C683.82,604.95 683.89,602.26 684.53,599.75 C685.16,597.24 686.25,594.63 687.78,592.43 C689.31,590.24 691.48,588.24 693.71,586.60 C695.94,584.95 698.59,583.70 701.16,582.59 C703.73,581.47 706.41,580.60 709.15,579.89 C711.89,579.19 714.72,578.55 717.60,578.36 C720.48,578.18 723.56,578.23 726.40,578.78 C729.24,579.33 732.12,580.37 734.64,581.67 C737.17,582.97 739.49,584.72 741.53,586.56 C743.56,588.40 745.39,590.51 746.85,592.72 C748.31,594.93 749.58,597.37 750.29,599.83 C751.01,602.30 751.31,604.98 751.16,607.50Z" fill="#FDD07E" stroke="#C99A52" stroke-width="1.3"/>
<ellipse cx="713.80" cy="613.70" rx="14.60" ry="13.58" fill="#EEAA46"/>
<path d="M809.78,623.00 C809.77,625.67 809.57,628.36 809.00,631.01 C808.43,633.66 807.69,636.44 806.36,638.92 C805.02,641.39 803.20,643.89 801.00,645.85 C798.81,647.80 795.99,649.43 793.20,650.65 C790.41,651.86 787.27,652.60 784.26,653.15 C781.24,653.69 778.15,653.94 775.10,653.93 C772.05,653.91 768.92,653.70 765.97,653.05 C763.02,652.40 760.03,651.39 757.39,650.05 C754.75,648.72 752.29,646.93 750.12,645.03 C747.95,643.13 746.02,640.94 744.38,638.64 C742.73,636.34 741.22,633.84 740.25,631.24 C739.29,628.63 738.58,625.75 738.58,623.00 C738.57,620.25 739.20,617.34 740.22,614.76 C741.24,612.18 742.96,609.74 744.69,607.52 C746.43,605.30 748.51,603.32 750.66,601.44 C752.81,599.56 755.07,597.75 757.60,596.26 C760.13,594.77 762.91,593.34 765.83,592.48 C768.75,591.63 772.01,591.14 775.10,591.13 C778.19,591.11 781.42,591.63 784.40,592.39 C787.38,593.15 790.31,594.29 792.99,595.67 C795.67,597.04 798.29,598.70 800.47,600.63 C802.64,602.56 804.61,604.85 806.04,607.24 C807.47,609.64 808.40,612.36 809.03,614.98 C809.65,617.61 809.78,620.33 809.78,623.00Z" fill="#E38585" stroke="#B8433F" stroke-width="1.3"/>
<ellipse cx="776.80" cy="617.90" rx="14.60" ry="13.58" fill="#D45B5B"/>
<path d="M758.85,710.40 C759.12,713.05 759.10,715.92 758.43,718.53 C757.75,721.14 756.43,723.80 754.82,726.05 C753.21,728.31 750.99,730.31 748.76,732.05 C746.53,733.80 744.02,735.27 741.46,736.53 C738.90,737.79 736.19,738.90 733.40,739.62 C730.61,740.34 727.61,740.81 724.70,740.83 C721.79,740.85 718.78,740.43 715.96,739.74 C713.15,739.06 710.40,737.98 707.82,736.72 C705.24,735.46 702.70,733.97 700.49,732.19 C698.27,730.42 696.10,728.35 694.54,726.07 C692.99,723.79 691.78,721.10 691.17,718.49 C690.55,715.88 690.59,713.03 690.85,710.40 C691.12,707.77 691.90,705.18 692.74,702.69 C693.59,700.20 694.61,697.77 695.93,695.45 C697.25,693.13 698.75,690.77 700.68,688.78 C702.60,686.79 704.94,684.91 707.46,683.53 C709.98,682.15 712.93,681.15 715.80,680.50 C718.67,679.85 721.74,679.61 724.70,679.63 C727.66,679.65 730.71,679.95 733.56,680.63 C736.42,681.31 739.32,682.34 741.82,683.72 C744.32,685.10 746.63,686.96 748.57,688.92 C750.51,690.88 752.05,693.18 753.43,695.47 C754.81,697.76 755.95,700.16 756.85,702.65 C757.75,705.14 758.59,707.75 758.85,710.40Z" fill="#D0D5C3" stroke="#A8B37E" stroke-width="1.3"/>
<ellipse cx="731.40" cy="707.50" rx="14.60" ry="13.58" fill="#A6B06F"/>
<path d="M811.67,684.00 C811.59,686.65 810.79,689.41 809.77,691.91 C808.76,694.41 807.23,696.78 805.60,698.99 C803.96,701.19 802.08,703.30 799.94,705.14 C797.81,706.99 795.40,708.74 792.78,710.06 C790.17,711.39 787.20,712.42 784.25,713.08 C781.31,713.74 778.16,714.00 775.10,714.04 C772.04,714.08 768.90,713.85 765.88,713.30 C762.85,712.76 759.71,711.99 756.94,710.77 C754.18,709.54 751.43,707.89 749.29,705.97 C747.15,704.05 745.42,701.61 744.11,699.23 C742.81,696.84 742.07,694.21 741.46,691.67 C740.86,689.13 740.55,686.57 740.47,684.00 C740.39,681.43 740.42,678.78 741.00,676.22 C741.58,673.67 742.50,671.01 743.93,668.69 C745.37,666.36 747.39,664.14 749.60,662.29 C751.80,660.44 754.48,658.87 757.18,657.58 C759.89,656.29 762.84,655.23 765.83,654.54 C768.81,653.85 772.02,653.40 775.10,653.44 C778.18,653.48 781.40,653.96 784.30,654.77 C787.21,655.57 789.99,656.89 792.54,658.28 C795.10,659.68 797.43,661.34 799.63,663.12 C801.84,664.89 804.01,666.78 805.77,668.93 C807.54,671.07 809.25,673.47 810.24,675.99 C811.22,678.50 811.75,681.35 811.67,684.00Z" fill="#9C80BA" stroke="#7044C6" stroke-width="1.3"/>
<ellipse cx="776.80" cy="676.90" rx="14.60" ry="13.58" fill="#8C5DAF"/>
<path d="M769.79,654.60 C769.62,657.31 769.12,660.02 768.31,662.62 C767.51,665.21 766.45,667.83 764.97,670.17 C763.49,672.51 761.58,674.78 759.43,676.67 C757.27,678.57 754.68,680.19 752.04,681.55 C749.40,682.90 746.52,683.99 743.58,684.81 C740.64,685.63 737.51,686.29 734.40,686.45 C731.29,686.60 727.95,686.45 724.94,685.74 C721.93,685.03 718.91,683.72 716.35,682.17 C713.79,680.63 711.57,678.54 709.59,676.49 C707.60,674.43 705.96,672.17 704.45,669.85 C702.95,667.54 701.53,665.14 700.56,662.60 C699.58,660.06 698.76,657.31 698.59,654.60 C698.42,651.89 698.75,649.00 699.54,646.36 C700.33,643.72 701.72,641.12 703.31,638.77 C704.90,636.42 706.89,634.20 709.08,632.27 C711.27,630.33 713.76,628.51 716.44,627.16 C719.12,625.81 722.16,624.73 725.15,624.15 C728.14,623.56 731.36,623.49 734.40,623.65 C737.44,623.80 740.44,624.39 743.37,625.08 C746.29,625.77 749.19,626.62 751.95,627.79 C754.71,628.96 757.57,630.30 759.93,632.08 C762.29,633.86 764.54,636.07 766.11,638.45 C767.68,640.83 768.72,643.65 769.33,646.34 C769.94,649.04 769.96,651.89 769.79,654.60Z" fill="#E38585" stroke="#B8433F" stroke-width="1.3"/>
<ellipse cx="736.10" cy="648.90" rx="14.60" ry="13.58" fill="#D45B5B"/>
<path d="M1045.69,668.60 C1045.82,671.31 1045.44,674.20 1044.70,676.83 C1043.95,679.46 1042.65,682.04 1041.20,684.37 C1039.74,686.70 1037.95,688.91 1035.97,690.83 C1033.98,692.74 1031.72,694.54 1029.30,695.87 C1026.87,697.20 1024.12,698.22 1021.42,698.80 C1018.73,699.38 1015.84,699.45 1013.10,699.34 C1010.36,699.22 1007.64,698.73 1004.97,698.10 C1002.30,697.47 999.62,696.69 997.10,695.54 C994.58,694.39 991.96,693.01 989.85,691.20 C987.74,689.39 985.78,687.10 984.42,684.69 C983.06,682.29 982.22,679.46 981.70,676.78 C981.18,674.10 981.15,671.29 981.29,668.60 C981.42,665.91 981.80,663.22 982.49,660.63 C983.18,658.04 984.10,655.41 985.43,653.07 C986.75,650.72 988.48,648.46 990.43,646.56 C992.37,644.66 994.71,643.03 997.10,641.66 C999.48,640.28 1002.09,639.15 1004.76,638.33 C1007.42,637.51 1010.29,636.85 1013.10,636.74 C1015.91,636.62 1018.94,636.87 1021.64,637.63 C1024.34,638.40 1027.01,639.78 1029.30,641.33 C1031.59,642.88 1033.57,644.93 1035.39,646.94 C1037.20,648.95 1038.77,651.12 1040.19,653.39 C1041.61,655.67 1042.99,658.04 1043.90,660.58 C1044.82,663.11 1045.55,665.89 1045.69,668.60Z" fill="#B4A2CC" stroke="#9A6BD8" stroke-width="1.3"/>
<ellipse cx="1014.40" cy="674.30" rx="14.60" ry="13.58" fill="#AA87C9"/>
<path d="M1179.37,651.30 C1179.30,654.12 1178.76,657.01 1177.91,659.72 C1177.07,662.44 1175.89,665.17 1174.29,667.60 C1172.70,670.03 1170.66,672.38 1168.36,674.28 C1166.05,676.18 1163.26,677.75 1160.47,679.01 C1157.68,680.26 1154.65,681.11 1151.64,681.81 C1148.62,682.52 1145.54,683.03 1142.40,683.23 C1139.26,683.43 1135.94,683.52 1132.80,683.01 C1129.66,682.50 1126.35,681.58 1123.56,680.18 C1120.78,678.78 1118.18,676.74 1116.07,674.61 C1113.96,672.48 1112.31,669.91 1110.90,667.40 C1109.49,664.89 1108.41,662.23 1107.62,659.55 C1106.84,656.87 1106.24,654.07 1106.17,651.30 C1106.10,648.53 1106.42,645.64 1107.21,642.95 C1107.99,640.27 1109.33,637.62 1110.90,635.20 C1112.47,632.78 1114.44,630.51 1116.60,628.46 C1118.76,626.41 1121.19,624.43 1123.87,622.89 C1126.55,621.35 1129.60,619.96 1132.69,619.22 C1135.78,618.48 1139.22,618.23 1142.40,618.43 C1145.58,618.63 1148.79,619.48 1151.75,620.42 C1154.71,621.36 1157.48,622.67 1160.16,624.06 C1162.84,625.46 1165.47,626.97 1167.83,628.79 C1170.18,630.61 1172.54,632.67 1174.29,635.00 C1176.04,637.33 1177.48,640.06 1178.33,642.78 C1179.18,645.49 1179.44,648.48 1179.37,651.30Z" fill="#EAA1A1" stroke="#C86262" stroke-width="1.3"/>
<ellipse cx="1150.60" cy="649.40" rx="14.60" ry="13.58" fill="#E07C7C"/>
<path d="M1149.40,711.40 C1149.40,713.93 1149.06,716.58 1148.24,719.00 C1147.42,721.42 1146.06,723.81 1144.48,725.90 C1142.89,728.00 1140.84,729.86 1138.75,731.57 C1136.66,733.28 1134.37,734.80 1131.95,736.16 C1129.52,737.52 1126.94,738.85 1124.18,739.72 C1121.43,740.59 1118.36,741.29 1115.40,741.39 C1112.44,741.48 1109.26,741.05 1106.44,740.28 C1103.62,739.50 1100.91,738.14 1098.48,736.71 C1096.05,735.29 1093.85,733.56 1091.86,731.74 C1089.86,729.92 1087.99,727.95 1086.50,725.81 C1085.01,723.68 1083.71,721.32 1082.93,718.92 C1082.15,716.51 1081.79,713.90 1081.80,711.40 C1081.80,708.90 1082.25,706.34 1082.94,703.89 C1083.63,701.44 1084.60,698.97 1085.93,696.70 C1087.27,694.43 1088.91,692.13 1090.95,690.27 C1092.98,688.42 1095.52,686.74 1098.15,685.58 C1100.77,684.42 1103.81,683.74 1106.69,683.31 C1109.56,682.87 1112.52,682.89 1115.40,682.99 C1118.28,683.08 1121.13,683.34 1123.94,683.87 C1126.75,684.39 1129.66,685.04 1132.28,686.14 C1134.90,687.24 1137.53,688.70 1139.66,690.44 C1141.78,692.19 1143.61,694.39 1145.04,696.61 C1146.47,698.84 1147.50,701.34 1148.23,703.80 C1148.95,706.27 1149.39,708.87 1149.40,711.40Z" fill="#D8DCCC" stroke="#B0BA88" stroke-width="1.3"/>
<ellipse cx="1121.50" cy="707.40" rx="14.30" ry="13.30" fill="#B5BD88"/>
<path d="M1073.16,607.40 C1073.02,609.92 1072.30,612.48 1071.44,614.86 C1070.57,617.25 1069.34,619.53 1067.97,621.73 C1066.61,623.94 1065.09,626.13 1063.23,628.07 C1061.36,630.02 1059.21,631.99 1056.76,633.41 C1054.31,634.83 1051.40,635.98 1048.54,636.59 C1045.68,637.20 1042.52,637.25 1039.60,637.06 C1036.68,636.88 1033.76,636.23 1031.00,635.47 C1028.24,634.71 1025.54,633.73 1023.04,632.49 C1020.54,631.25 1018.08,629.79 1016.01,628.04 C1013.95,626.30 1012.09,624.20 1010.66,622.02 C1009.22,619.84 1008.17,617.39 1007.38,614.95 C1006.60,612.52 1006.11,609.95 1005.96,607.40 C1005.82,604.85 1005.89,602.16 1006.53,599.65 C1007.16,597.14 1008.25,594.53 1009.78,592.33 C1011.31,590.14 1013.48,588.14 1015.71,586.50 C1017.94,584.85 1020.59,583.60 1023.16,582.49 C1025.73,581.37 1028.41,580.50 1031.15,579.79 C1033.89,579.09 1036.72,578.45 1039.60,578.26 C1042.48,578.08 1045.56,578.13 1048.40,578.68 C1051.24,579.23 1054.12,580.27 1056.64,581.57 C1059.17,582.87 1061.49,584.62 1063.53,586.46 C1065.56,588.30 1067.39,590.41 1068.85,592.62 C1070.31,594.83 1071.58,597.27 1072.29,599.73 C1073.01,602.20 1073.31,604.88 1073.16,607.40Z" fill="#9C80BA" stroke="#7044C6" stroke-width="1.3"/>
<ellipse cx="1035.80" cy="613.60" rx="14.60" ry="13.58" fill="#8C5DAF"/>
<path d="M1131.78,622.90 C1131.77,625.57 1131.57,628.26 1131.00,630.91 C1130.43,633.56 1129.69,636.34 1128.36,638.82 C1127.02,641.29 1125.20,643.79 1123.00,645.75 C1120.81,647.70 1117.99,649.33 1115.20,650.55 C1112.41,651.76 1109.27,652.50 1106.26,653.05 C1103.24,653.59 1100.15,653.84 1097.10,653.83 C1094.05,653.81 1090.92,653.60 1087.97,652.95 C1085.02,652.30 1082.03,651.29 1079.39,649.95 C1076.75,648.62 1074.29,646.83 1072.12,644.93 C1069.95,643.03 1068.02,640.84 1066.38,638.54 C1064.73,636.24 1063.22,633.74 1062.25,631.14 C1061.29,628.53 1060.58,625.65 1060.58,622.90 C1060.57,620.15 1061.20,617.24 1062.22,614.66 C1063.24,612.08 1064.96,609.64 1066.69,607.42 C1068.43,605.20 1070.51,603.22 1072.66,601.34 C1074.81,599.46 1077.07,597.65 1079.60,596.16 C1082.13,594.67 1084.91,593.24 1087.83,592.38 C1090.75,591.53 1094.01,591.04 1097.10,591.03 C1100.19,591.01 1103.42,591.53 1106.40,592.29 C1109.38,593.05 1112.31,594.19 1114.99,595.57 C1117.67,596.94 1120.29,598.60 1122.47,600.53 C1124.64,602.46 1126.61,604.75 1128.04,607.14 C1129.47,609.54 1130.40,612.26 1131.03,614.88 C1131.65,617.51 1131.78,620.23 1131.78,622.90Z" fill="#E38585" stroke="#B8433F" stroke-width="1.3"/>
<ellipse cx="1098.80" cy="617.80" rx="14.60" ry="13.58" fill="#D45B5B"/>
<path d="M1080.85,710.30 C1081.12,712.95 1081.10,715.82 1080.43,718.43 C1079.75,721.04 1078.43,723.70 1076.82,725.95 C1075.21,728.21 1072.99,730.21 1070.76,731.95 C1068.53,733.70 1066.02,735.17 1063.46,736.43 C1060.90,737.69 1058.19,738.80 1055.40,739.52 C1052.61,740.24 1049.61,740.71 1046.70,740.73 C1043.79,740.75 1040.78,740.33 1037.96,739.64 C1035.15,738.96 1032.40,737.88 1029.82,736.62 C1027.24,735.36 1024.70,733.87 1022.49,732.09 C1020.27,730.32 1018.10,728.25 1016.54,725.97 C1014.99,723.69 1013.78,721.00 1013.17,718.39 C1012.55,715.78 1012.59,712.93 1012.85,710.30 C1013.12,707.67 1013.90,705.08 1014.74,702.59 C1015.59,700.10 1016.61,697.67 1017.93,695.35 C1019.25,693.03 1020.75,690.67 1022.68,688.68 C1024.60,686.69 1026.94,684.81 1029.46,683.43 C1031.98,682.05 1034.93,681.05 1037.80,680.40 C1040.67,679.75 1043.74,679.51 1046.70,679.53 C1049.66,679.55 1052.71,679.85 1055.56,680.53 C1058.42,681.21 1061.32,682.24 1063.82,683.62 C1066.32,685.00 1068.63,686.86 1070.57,688.82 C1072.51,690.78 1074.05,693.08 1075.43,695.37 C1076.81,697.66 1077.95,700.06 1078.85,702.55 C1079.75,705.04 1080.59,707.65 1080.85,710.30Z" fill="#E38585" stroke="#B8433F" stroke-width="1.3"/>
<ellipse cx="1053.40" cy="707.40" rx="14.60" ry="13.58" fill="#D45B5B"/>
<path d="M1133.67,683.90 C1133.59,686.55 1132.79,689.31 1131.77,691.81 C1130.76,694.31 1129.23,696.68 1127.60,698.89 C1125.96,701.09 1124.08,703.20 1121.94,705.04 C1119.81,706.89 1117.40,708.64 1114.78,709.96 C1112.17,711.29 1109.20,712.32 1106.25,712.98 C1103.31,713.64 1100.16,713.90 1097.10,713.94 C1094.04,713.98 1090.90,713.75 1087.88,713.20 C1084.85,712.66 1081.71,711.89 1078.94,710.67 C1076.18,709.44 1073.43,707.79 1071.29,705.87 C1069.15,703.95 1067.42,701.51 1066.11,699.13 C1064.81,696.74 1064.07,694.11 1063.46,691.57 C1062.86,689.03 1062.55,686.47 1062.47,683.90 C1062.39,681.33 1062.42,678.68 1063.00,676.12 C1063.58,673.57 1064.50,670.91 1065.93,668.59 C1067.37,666.26 1069.39,664.04 1071.60,662.19 C1073.80,660.34 1076.48,658.77 1079.18,657.48 C1081.89,656.19 1084.84,655.13 1087.83,654.44 C1090.81,653.75 1094.02,653.30 1097.10,653.34 C1100.18,653.38 1103.40,653.86 1106.30,654.67 C1109.21,655.47 1111.99,656.79 1114.54,658.18 C1117.10,659.58 1119.43,661.24 1121.63,663.02 C1123.84,664.79 1126.01,666.68 1127.77,668.83 C1129.54,670.97 1131.25,673.37 1132.24,675.89 C1133.22,678.40 1133.75,681.25 1133.67,683.90Z" fill="#9C80BA" stroke="#7044C6" stroke-width="1.3"/>
<ellipse cx="1098.80" cy="676.80" rx="14.60" ry="13.58" fill="#8C5DAF"/>
<path d="M1091.79,654.50 C1091.62,657.21 1091.12,659.92 1090.31,662.52 C1089.51,665.11 1088.45,667.73 1086.97,670.07 C1085.49,672.41 1083.58,674.68 1081.43,676.57 C1079.27,678.47 1076.68,680.09 1074.04,681.45 C1071.40,682.80 1068.52,683.89 1065.58,684.71 C1062.64,685.53 1059.51,686.19 1056.40,686.35 C1053.29,686.50 1049.95,686.35 1046.94,685.64 C1043.93,684.93 1040.91,683.62 1038.35,682.07 C1035.79,680.53 1033.57,678.44 1031.59,676.39 C1029.60,674.33 1027.96,672.07 1026.45,669.75 C1024.95,667.44 1023.53,665.04 1022.56,662.50 C1021.58,659.96 1020.76,657.21 1020.59,654.50 C1020.42,651.79 1020.75,648.90 1021.54,646.26 C1022.33,643.62 1023.72,641.02 1025.31,638.67 C1026.90,636.32 1028.89,634.10 1031.08,632.17 C1033.27,630.23 1035.76,628.41 1038.44,627.06 C1041.12,625.71 1044.16,624.63 1047.15,624.05 C1050.14,623.46 1053.36,623.39 1056.40,623.55 C1059.44,623.70 1062.44,624.29 1065.37,624.98 C1068.29,625.67 1071.19,626.52 1073.95,627.69 C1076.71,628.86 1079.57,630.20 1081.93,631.98 C1084.29,633.76 1086.54,635.97 1088.11,638.35 C1089.68,640.73 1090.72,643.55 1091.33,646.24 C1091.94,648.94 1091.96,651.79 1091.79,654.50Z" fill="#E38585" stroke="#B8433F" stroke-width="1.3"/>
<ellipse cx="1058.10" cy="648.80" rx="14.60" ry="13.58" fill="#D45B5B"/>
<line x1="236.60" y1="669.60" x2="305.50" y2="669.60" stroke="#222" stroke-width="3.6"/>
<polygon points="304.50,660.20 324.60,669.60 304.50,679.00" fill="#222"/>
<line x1="553.00" y1="664.90" x2="622.50" y2="664.90" stroke="#222" stroke-width="3.6"/>
<polygon points="621.50,655.50 641.50,664.90 621.50,674.30" fill="#222"/>
<line x1="869.20" y1="669.50" x2="938.70" y2="669.50" stroke="#222" stroke-width="3.6"/>
<polygon points="937.70,660.10 958.00,669.50 937.70,678.90" fill="#222"/>
<line x1="1195.70" y1="669.70" x2="1264.80" y2="669.70" stroke="#222" stroke-width="3.6"/>
<polygon points="1263.80,660.30 1284.00,669.70 1263.80,679.10" fill="#222"/>
<path d="M260.2,700.5 C262.5,692.5 270,687.5 279,686.4 C285.5,685.6 290.5,688 290.3,692.3 C290,696 285.5,697.8 280.5,700.2 C276.5,702.2 275.2,706 274.3,710.5 C273.5,714.5 271,716 267.5,715.6 C263,715 259.5,710 259.6,704.5 Z" fill="#8FA0D4" stroke="#8496cc" stroke-width="0.6"/>
<line x1="563.08" y1="699.30" x2="565.95" y2="700.49" stroke="#F5A623" stroke-width="1.1"/>
<circle cx="566.68" cy="700.80" r="1.35" fill="#F5A623"/>
<line x1="560.10" y1="702.28" x2="561.29" y2="705.15" stroke="#F5A623" stroke-width="1.1"/>
<circle cx="561.60" cy="705.88" r="1.35" fill="#F5A623"/>
<line x1="555.90" y1="702.28" x2="554.71" y2="705.15" stroke="#F5A623" stroke-width="1.1"/>
<circle cx="554.40" cy="705.88" r="1.35" fill="#F5A623"/>
<line x1="552.92" y1="699.30" x2="550.05" y2="700.49" stroke="#F5A623" stroke-width="1.1"/>
<circle cx="549.32" cy="700.80" r="1.35" fill="#F5A623"/>
<line x1="552.92" y1="695.10" x2="550.05" y2="693.91" stroke="#F5A623" stroke-width="1.1"/>
<circle cx="549.32" cy="693.60" r="1.35" fill="#F5A623"/>
<line x1="555.90" y1="692.12" x2="554.71" y2="689.25" stroke="#F5A623" stroke-width="1.1"/>
<circle cx="554.40" cy="688.52" r="1.35" fill="#F5A623"/>
<line x1="560.10" y1="692.12" x2="561.29" y2="689.25" stroke="#F5A623" stroke-width="1.1"/>
<circle cx="561.60" cy="688.52" r="1.35" fill="#F5A623"/>
<line x1="563.08" y1="695.10" x2="565.95" y2="693.91" stroke="#F5A623" stroke-width="1.1"/>
<circle cx="566.68" cy="693.60" r="1.35" fill="#F5A623"/>
<circle cx="558.00" cy="697.20" r="6.1" fill="#F5A623"/>
<line x1="598.08" y1="699.00" x2="600.95" y2="700.19" stroke="#13A2D6" stroke-width="1.1"/>
<circle cx="601.68" cy="700.50" r="1.35" fill="#13A2D6"/>
<line x1="595.10" y1="701.98" x2="596.29" y2="704.85" stroke="#13A2D6" stroke-width="1.1"/>
<circle cx="596.60" cy="705.58" r="1.35" fill="#13A2D6"/>
<line x1="590.90" y1="701.98" x2="589.71" y2="704.85" stroke="#13A2D6" stroke-width="1.1"/>
<circle cx="589.40" cy="705.58" r="1.35" fill="#13A2D6"/>
<line x1="587.92" y1="699.00" x2="585.05" y2="700.19" stroke="#13A2D6" stroke-width="1.1"/>
<circle cx="584.32" cy="700.50" r="1.35" fill="#13A2D6"/>
<line x1="587.92" y1="694.80" x2="585.05" y2="693.61" stroke="#13A2D6" stroke-width="1.1"/>
<circle cx="584.32" cy="693.30" r="1.35" fill="#13A2D6"/>
<line x1="590.90" y1="691.82" x2="589.71" y2="688.95" stroke="#13A2D6" stroke-width="1.1"/>
<circle cx="589.40" cy="688.22" r="1.35" fill="#13A2D6"/>
<line x1="595.10" y1="691.82" x2="596.29" y2="688.95" stroke="#13A2D6" stroke-width="1.1"/>
<circle cx="596.60" cy="688.22" r="1.35" fill="#13A2D6"/>
<line x1="598.08" y1="694.80" x2="600.95" y2="693.61" stroke="#13A2D6" stroke-width="1.1"/>
<circle cx="601.68" cy="693.30" r="1.35" fill="#13A2D6"/>
<circle cx="593.00" cy="696.90" r="6.1" fill="#13A2D6"/>
<line x1="632.78" y1="699.30" x2="635.65" y2="700.49" stroke="#D4587A" stroke-width="1.1"/>
<circle cx="636.38" cy="700.80" r="1.35" fill="#D4587A"/>
<line x1="629.80" y1="702.28" x2="630.99" y2="705.15" stroke="#D4587A" stroke-width="1.1"/>
<circle cx="631.30" cy="705.88" r="1.35" fill="#D4587A"/>
<line x1="625.60" y1="702.28" x2="624.41" y2="705.15" stroke="#D4587A" stroke-width="1.1"/>
<circle cx="624.10" cy="705.88" r="1.35" fill="#D4587A"/>
<line x1="622.62" y1="699.30" x2="619.75" y2="700.49" stroke="#D4587A" stroke-width="1.1"/>
<circle cx="619.02" cy="700.80" r="1.35" fill="#D4587A"/>
<line x1="622.62" y1="695.10" x2="619.75" y2="693.91" stroke="#D4587A" stroke-width="1.1"/>
<circle cx="619.02" cy="693.60" r="1.35" fill="#D4587A"/>
<line x1="625.60" y1="692.12" x2="624.41" y2="689.25" stroke="#D4587A" stroke-width="1.1"/>
<circle cx="624.10" cy="688.52" r="1.35" fill="#D4587A"/>
<line x1="629.80" y1="692.12" x2="630.99" y2="689.25" stroke="#D4587A" stroke-width="1.1"/>
<circle cx="631.30" cy="688.52" r="1.35" fill="#D4587A"/>
<line x1="632.78" y1="695.10" x2="635.65" y2="693.91" stroke="#D4587A" stroke-width="1.1"/>
<circle cx="636.38" cy="693.60" r="1.35" fill="#D4587A"/>
<circle cx="627.70" cy="697.20" r="6.1" fill="#D4587A"/>
<line x1="583.78" y1="724.20" x2="586.65" y2="725.39" stroke="#9FCDA8" stroke-width="1.1"/>
<circle cx="587.38" cy="725.70" r="1.35" fill="#9FCDA8"/>
<line x1="580.80" y1="727.18" x2="581.99" y2="730.05" stroke="#9FCDA8" stroke-width="1.1"/>
<circle cx="582.30" cy="730.78" r="1.35" fill="#9FCDA8"/>
<line x1="576.60" y1="727.18" x2="575.41" y2="730.05" stroke="#9FCDA8" stroke-width="1.1"/>
<circle cx="575.10" cy="730.78" r="1.35" fill="#9FCDA8"/>
<line x1="573.62" y1="724.20" x2="570.75" y2="725.39" stroke="#9FCDA8" stroke-width="1.1"/>
<circle cx="570.02" cy="725.70" r="1.35" fill="#9FCDA8"/>
<line x1="573.62" y1="720.00" x2="570.75" y2="718.81" stroke="#9FCDA8" stroke-width="1.1"/>
<circle cx="570.02" cy="718.50" r="1.35" fill="#9FCDA8"/>
<line x1="576.60" y1="717.02" x2="575.41" y2="714.15" stroke="#9FCDA8" stroke-width="1.1"/>
<circle cx="575.10" cy="713.42" r="1.35" fill="#9FCDA8"/>
<line x1="580.80" y1="717.02" x2="581.99" y2="714.15" stroke="#9FCDA8" stroke-width="1.1"/>
<circle cx="582.30" cy="713.42" r="1.35" fill="#9FCDA8"/>
<line x1="583.78" y1="720.00" x2="586.65" y2="718.81" stroke="#9FCDA8" stroke-width="1.1"/>
<circle cx="587.38" cy="718.50" r="1.35" fill="#9FCDA8"/>
<circle cx="578.70" cy="722.10" r="6.1" fill="#9FCDA8"/>
<line x1="616.88" y1="724.20" x2="619.75" y2="725.39" stroke="#7E58A8" stroke-width="1.1"/>
<circle cx="620.48" cy="725.70" r="1.35" fill="#7E58A8"/>
<line x1="613.90" y1="727.18" x2="615.09" y2="730.05" stroke="#7E58A8" stroke-width="1.1"/>
<circle cx="615.40" cy="730.78" r="1.35" fill="#7E58A8"/>
<line x1="609.70" y1="727.18" x2="608.51" y2="730.05" stroke="#7E58A8" stroke-width="1.1"/>
<circle cx="608.20" cy="730.78" r="1.35" fill="#7E58A8"/>
<line x1="606.72" y1="724.20" x2="603.85" y2="725.39" stroke="#7E58A8" stroke-width="1.1"/>
<circle cx="603.12" cy="725.70" r="1.35" fill="#7E58A8"/>
<line x1="606.72" y1="720.00" x2="603.85" y2="718.81" stroke="#7E58A8" stroke-width="1.1"/>
<circle cx="603.12" cy="718.50" r="1.35" fill="#7E58A8"/>
<line x1="609.70" y1="717.02" x2="608.51" y2="714.15" stroke="#7E58A8" stroke-width="1.1"/>
<circle cx="608.20" cy="713.42" r="1.35" fill="#7E58A8"/>
<line x1="613.90" y1="717.02" x2="615.09" y2="714.15" stroke="#7E58A8" stroke-width="1.1"/>
<circle cx="615.40" cy="713.42" r="1.35" fill="#7E58A8"/>
<line x1="616.88" y1="720.00" x2="619.75" y2="718.81" stroke="#7E58A8" stroke-width="1.1"/>
<circle cx="620.48" cy="718.50" r="1.35" fill="#7E58A8"/>
<circle cx="611.80" cy="722.10" r="6.1" fill="#7E58A8"/>
<path d="M1370.89,615.96 L1408.70,615.96 Q1413.74,615.96 1413.74,621.76 L1415.76,657.05 L1370.89,657.05 Z" fill="#55585a"/>
<polygon points="1305.85,626.04 1315.43,614.95 1322.99,611.17 1373.41,612.43 1375.43,655.79 1375.43,714.27 1328.04,717.80 1315.43,712.26 1305.85,705.70" fill="#c9cdd0" stroke="#6d7174" stroke-width="0.7" stroke-linejoin="round"/>
<polygon points="1305.85,626.04 1315.43,614.95 1317.45,615.96 1317.95,713.77 1315.43,712.26 1305.85,705.70" fill="#a7acb0"/>
<polygon points="1315.43,614.95 1322.99,611.17 1373.41,612.43 1373.41,615.96 1317.95,616.47" fill="#dfe2e4"/>
<rect x="1322.24" y="617.22" width="48.15" height="32.27" fill="#e3eff4" stroke="#8d979c" stroke-width="0.9"/>
<polygon points="1338.12,648.73 1358.29,617.98 1363.33,617.98 1343.16,648.73" fill="#eef6f9"/>
<path d="M1324.26,654.53 L1417.52,654.53 Q1419.54,654.53 1419.54,657.05 L1419.54,710.74 Q1419.54,713.26 1416.77,713.26 L1327.53,714.27 Q1324.76,714.27 1324.51,711.25 L1322.24,657.05 Q1322.24,654.53 1324.26,654.53 Z" fill="#4a4c4e"/>
<polygon points="1353.24,713.26 1383.49,655.79 1419.54,655.79 1419.54,713.26" fill="#565859"/>
<line x1="1332.32" y1="665.37" x2="1415.00" y2="665.37" stroke="#52c6cf" stroke-width="1.5"/>
<line x1="1327.53" y1="675.96" x2="1418.28" y2="675.96" stroke="#5f8f94" stroke-width="0.7"/>
<circle cx="1331.57" cy="659.57" r="1.6" fill="none" stroke="#5fb9c0" stroke-width="0.6"/>
<polygon points="1325.52,714.27 1380.97,712.26 1380.97,715.79 1326.78,717.30" fill="#d9dcde"/>
<rect x="1324.26" y="715.79" width="10.08" height="2.52" fill="#333"/>
<rect x="1399.88" y="712.51" width="9.58" height="3.53" fill="#333"/>
<rect x="1312.91" y="710.24" width="5.04" height="2.02" fill="#333"/>
<text x="-2.10" y="880.70" font-size="55.00" font-weight="bold" fill="#000">d</text>
<rect x="194.00" y="916.48" width="25.60" height="295.72" fill="#8C8C8C"/>
<rect x="229.80" y="987.80" width="25.60" height="224.40" fill="#8C8C8C"/>
<rect x="265.60" y="941.19" width="25.60" height="271.01" fill="#8C8C8C"/>
<rect x="301.40" y="979.45" width="25.60" height="232.75" fill="#8C8C8C"/>
<rect x="337.20" y="964.50" width="25.60" height="247.70" fill="#8C8C8C"/>
<rect x="373.00" y="1022.94" width="25.60" height="189.26" fill="#8C8C8C"/>
<rect x="408.80" y="961.71" width="25.60" height="250.49" fill="#8C8C8C"/>
<rect x="444.60" y="1124.53" width="25.60" height="87.67" fill="#8C8C8C"/>
<rect x="480.40" y="923.44" width="25.60" height="288.76" fill="#8C8C8C"/>
<rect x="516.20" y="907.09" width="25.60" height="305.11" fill="#8C8C8C"/>
<line x1="183.00" y1="861.55" x2="183.00" y2="1214.95" stroke="#000" stroke-width="5.5"/>
<line x1="165.20" y1="1212.20" x2="552.40" y2="1212.20" stroke="#000" stroke-width="5.5"/>
<line x1="165.30" y1="1212.20" x2="183.00" y2="1212.20" stroke="#000" stroke-width="5.5"/>
<text x="116.84" y="1222.49" font-size="27.50" fill="#000">0.0</text>
<line x1="165.30" y1="1142.62" x2="183.00" y2="1142.62" stroke="#000" stroke-width="5.5"/>
<text x="117.25" y="1152.91" font-size="27.50" fill="#000">0.2</text>
<line x1="165.30" y1="1073.04" x2="183.00" y2="1073.04" stroke="#000" stroke-width="5.5"/>
<text x="116.70" y="1083.33" font-size="27.50" fill="#000">0.4</text>
<line x1="165.30" y1="1003.46" x2="183.00" y2="1003.46" stroke="#000" stroke-width="5.5"/>
<text x="116.97" y="1013.75" font-size="27.50" fill="#000">0.6</text>
<line x1="165.30" y1="933.88" x2="183.00" y2="933.88" stroke="#000" stroke-width="5.5"/>
<text x="116.97" y="944.17" font-size="27.50" fill="#000">0.8</text>
<line x1="165.30" y1="864.30" x2="183.00" y2="864.30" stroke="#000" stroke-width="5.5"/>
<text x="116.84" y="874.59" font-size="27.50" fill="#000">1.0</text>
<line x1="206.80" y1="1212.20" x2="206.80" y2="1229.50" stroke="#000" stroke-width="5.5"/>
<text x="212.90" y="1367.91" font-size="31.40" fill="#000" transform="rotate(-90 212.90 1367.91)">WT-Cas9</text>
<line x1="242.60" y1="1212.20" x2="242.60" y2="1229.50" stroke="#000" stroke-width="5.5"/>
<text x="248.70" y="1380.44" font-size="31.40" fill="#000" transform="rotate(-90 248.70 1380.44)">Cas9-HF1</text>
<line x1="278.40" y1="1212.20" x2="278.40" y2="1229.50" stroke="#000" stroke-width="5.5"/>
<text x="284.50" y="1381.68" font-size="31.40" fill="#000" transform="rotate(-90 284.50 1381.68)">eCas9-1.1</text>
<line x1="314.20" y1="1212.20" x2="314.20" y2="1229.50" stroke="#000" stroke-width="5.5"/>
<text x="320.30" y="1362.11" font-size="31.40" fill="#000" transform="rotate(-90 320.30 1362.11)">evoCas9</text>
<line x1="350.00" y1="1212.20" x2="350.00" y2="1229.50" stroke="#000" stroke-width="5.5"/>
<text x="356.10" y="1381.17" font-size="31.40" fill="#000" transform="rotate(-90 356.10 1381.17)">HypaCas9</text>
<line x1="385.80" y1="1212.20" x2="385.80" y2="1229.50" stroke="#000" stroke-width="5.5"/>
<text x="391.90" y="1377.79" font-size="31.40" fill="#000" transform="rotate(-90 391.90 1377.79)">xCas9-3.7</text>
<line x1="421.60" y1="1212.20" x2="421.60" y2="1229.50" stroke="#000" stroke-width="5.5"/>
<text x="427.70" y="1385.21" font-size="31.40" fill="#000" transform="rotate(-90 427.70 1385.21)">Cas9-VQR</text>
<line x1="457.40" y1="1212.20" x2="457.40" y2="1229.50" stroke="#000" stroke-width="5.5"/>
<text x="463.50" y="1401.97" font-size="31.40" fill="#000" transform="rotate(-90 463.50 1401.97)">Cas9-VRER</text>
<line x1="493.20" y1="1212.20" x2="493.20" y2="1229.50" stroke="#000" stroke-width="5.5"/>
<text x="499.30" y="1368.08" font-size="31.40" fill="#000" transform="rotate(-90 499.30 1368.08)">Cas9-NG</text>
<line x1="529.00" y1="1212.20" x2="529.00" y2="1229.50" stroke="#000" stroke-width="5.5"/>
<text x="535.10" y="1308.01" font-size="31.40" fill="#000" transform="rotate(-90 535.10 1308.01)">SpG</text>
<text x="60.90" y="1207.90" font-size="30.04" fill="#000" transform="rotate(-90 60.90 1207.90)">Replicate reproducibility</text>
<text x="95.21" y="1130.00" font-size="30.08" fill="#000" transform="rotate(-90 95.21 1130.00)">(Pearson’s r)</text>
<text x="577.40" y="880.50" font-size="55.00" font-weight="bold" fill="#000">e</text>
<text x="614.93" y="967.60" font-size="31.39" fill="#000">fraction active = 0.95</text>
<text x="611.27" y="1030.50" font-size="31.66" fill="#9ECAE1">Essential</text>
<text x="610.88" y="1092.80" font-size="31.52" fill="#66C2A5">Nonessential</text>
<text x="610.87" y="1155.00" font-size="31.60" fill="#8DA0CB">Non-targeting</text>
<text x="611.22" y="1192.30" font-size="31.63" fill="#8DA0CB">Control</text>
<text x="678.39" y="1216.80" font-size="19.50" fill="#000">−6</text>
<text x="796.79" y="1216.80" font-size="19.50" fill="#000">−4</text>
<text x="915.88" y="1216.80" font-size="19.50" fill="#000">−2</text>
<text x="1038.74" y="1216.80" font-size="19.50" fill="#000">0</text>
<text x="689.60" y="1257.50" font-size="31.27" fill="#000">Avg log2-fold change from pDNA</text>
<path d="M700.00,1048.50 C704.28,1046.72 717.42,1041.08 725.70,1037.80 C733.98,1034.52 739.22,1031.10 749.70,1028.80 C760.18,1026.50 776.12,1024.38 788.60,1024.00 C801.08,1023.62 812.62,1024.92 824.60,1026.50 C836.58,1028.08 850.53,1031.75 860.50,1033.50 C870.47,1035.25 872.93,1036.15 884.40,1037.00 C895.87,1037.85 916.82,1037.73 929.30,1038.60 C941.78,1039.47 950.32,1041.00 959.30,1042.20 C968.28,1043.40 978.92,1045.18 983.20,1045.80 C987.48,1046.42 984.70,1045.92 985.00,1045.94 L985.00,1051.20 L700.00,1051.20 Z" fill="#C2DCEA"/>
<path d="M626.30,1053.30 C634.40,1053.05 662.82,1052.52 674.90,1051.80 C686.98,1051.08 690.33,1051.33 698.80,1049.00 C707.27,1046.67 717.22,1041.17 725.70,1037.80 C734.18,1034.43 739.22,1031.10 749.70,1028.80 C760.18,1026.50 776.12,1024.38 788.60,1024.00 C801.08,1023.62 812.62,1024.92 824.60,1026.50 C836.58,1028.08 850.53,1031.75 860.50,1033.50 C870.47,1035.25 872.93,1036.15 884.40,1037.00 C895.87,1037.85 916.82,1037.73 929.30,1038.60 C941.78,1039.47 950.32,1041.00 959.30,1042.20 C968.28,1043.40 973.22,1044.73 983.20,1045.80 C993.18,1046.87 1005.73,1047.75 1019.20,1048.60 C1032.67,1049.45 1049.03,1050.23 1064.00,1050.90 C1078.97,1051.57 1093.27,1052.20 1109.00,1052.60 C1124.73,1053.00 1150.17,1053.18 1158.40,1053.30" fill="none" stroke="#A8CFE4" stroke-width="1.8"/>
<path d="M700.00,1048.50 C704.28,1046.72 717.42,1041.08 725.70,1037.80 C733.98,1034.52 739.22,1031.10 749.70,1028.80 C760.18,1026.50 776.12,1024.38 788.60,1024.00 C801.08,1023.62 812.62,1024.92 824.60,1026.50 C836.58,1028.08 850.53,1031.75 860.50,1033.50 C870.47,1035.25 872.93,1036.15 884.40,1037.00 C895.87,1037.85 916.82,1037.73 929.30,1038.60 C941.78,1039.47 950.32,1041.00 959.30,1042.20 C968.28,1043.40 978.92,1045.18 983.20,1045.80 C987.48,1046.42 984.70,1045.92 985.00,1045.94" fill="none" stroke="#A8CFE4" stroke-width="4.6" stroke-linecap="butt"/>
<path d="M700.00,1048.50 C704.28,1046.72 717.42,1041.08 725.70,1037.80 C733.98,1034.52 739.22,1031.10 749.70,1028.80 C760.18,1026.50 776.12,1024.38 788.60,1024.00 C801.08,1023.62 812.62,1024.92 824.60,1026.50 C836.58,1028.08 850.53,1031.75 860.50,1033.50 C870.47,1035.25 872.93,1036.15 884.40,1037.00 C895.87,1037.85 916.82,1037.73 929.30,1038.60 C941.78,1039.47 950.32,1041.00 959.30,1042.20 C968.28,1043.40 978.92,1045.18 983.20,1045.80 C987.48,1046.42 984.70,1045.92 985.00,1045.94" fill="none" stroke="#fff" stroke-width="1.3" stroke-linecap="butt"/>
<path d="M940.00,1113.38 C940.72,1113.15 940.08,1114.18 944.30,1112.00 C948.52,1109.82 958.32,1105.00 965.30,1100.30 C972.28,1095.60 979.72,1089.53 986.20,1083.80 C992.68,1078.07 998.70,1070.53 1004.20,1065.90 C1009.70,1061.27 1015.22,1058.05 1019.20,1056.00 C1023.18,1053.95 1024.62,1053.70 1028.10,1053.60 C1031.58,1053.50 1036.10,1053.60 1040.10,1055.40 C1044.10,1057.20 1048.12,1059.17 1052.10,1064.40 C1056.08,1069.63 1059.52,1079.82 1064.00,1086.80 C1068.48,1093.78 1075.67,1102.42 1079.00,1106.30 C1082.33,1110.17 1083.17,1109.42 1084.00,1110.05 L1084.00,1116.40 L940.00,1116.40 Z" fill="#8FD3BA"/>
<path d="M662.30,1118.90 C681.85,1118.78 747.57,1118.42 779.60,1118.20 C811.63,1117.98 834.53,1117.50 854.50,1117.60 C874.47,1117.70 886.93,1118.93 899.40,1118.80 C911.87,1118.67 921.82,1117.93 929.30,1116.80 C936.78,1115.67 938.30,1114.75 944.30,1112.00 C950.30,1109.25 958.32,1105.00 965.30,1100.30 C972.28,1095.60 979.72,1089.53 986.20,1083.80 C992.68,1078.07 998.70,1070.53 1004.20,1065.90 C1009.70,1061.27 1015.22,1058.05 1019.20,1056.00 C1023.18,1053.95 1024.62,1053.70 1028.10,1053.60 C1031.58,1053.50 1036.10,1053.60 1040.10,1055.40 C1044.10,1057.20 1048.12,1059.17 1052.10,1064.40 C1056.08,1069.63 1059.52,1079.82 1064.00,1086.80 C1068.48,1093.78 1074.50,1101.55 1079.00,1106.30 C1083.50,1111.05 1086.00,1113.25 1091.00,1115.30 C1096.00,1117.35 1104.00,1118.00 1109.00,1118.60 C1114.00,1119.20 1119.00,1118.85 1121.00,1118.90" fill="none" stroke="#7CCBAE" stroke-width="1.8"/>
<path d="M940.00,1113.38 C940.72,1113.15 940.08,1114.18 944.30,1112.00 C948.52,1109.82 958.32,1105.00 965.30,1100.30 C972.28,1095.60 979.72,1089.53 986.20,1083.80 C992.68,1078.07 998.70,1070.53 1004.20,1065.90 C1009.70,1061.27 1015.22,1058.05 1019.20,1056.00 C1023.18,1053.95 1024.62,1053.70 1028.10,1053.60 C1031.58,1053.50 1036.10,1053.60 1040.10,1055.40 C1044.10,1057.20 1048.12,1059.17 1052.10,1064.40 C1056.08,1069.63 1059.52,1079.82 1064.00,1086.80 C1068.48,1093.78 1075.67,1102.42 1079.00,1106.30 C1082.33,1110.17 1083.17,1109.42 1084.00,1110.05" fill="none" stroke="#7CCBAE" stroke-width="4.6" stroke-linecap="butt"/>
<path d="M940.00,1113.38 C940.72,1113.15 940.08,1114.18 944.30,1112.00 C948.52,1109.82 958.32,1105.00 965.30,1100.30 C972.28,1095.60 979.72,1089.53 986.20,1083.80 C992.68,1078.07 998.70,1070.53 1004.20,1065.90 C1009.70,1061.27 1015.22,1058.05 1019.20,1056.00 C1023.18,1053.95 1024.62,1053.70 1028.10,1053.60 C1031.58,1053.50 1036.10,1053.60 1040.10,1055.40 C1044.10,1057.20 1048.12,1059.17 1052.10,1064.40 C1056.08,1069.63 1059.52,1079.82 1064.00,1086.80 C1068.48,1093.78 1075.67,1102.42 1079.00,1106.30 C1082.33,1110.17 1083.17,1109.42 1084.00,1110.05" fill="none" stroke="#fff" stroke-width="1.3" stroke-linecap="butt"/>
<path d="M1002.00,1179.65 C1002.37,1179.61 1001.33,1181.39 1004.20,1179.40 C1007.07,1177.41 1014.72,1171.15 1019.20,1167.70 C1023.68,1164.25 1027.62,1164.70 1031.10,1158.70 C1034.58,1152.70 1037.10,1142.18 1040.10,1131.70 C1043.10,1121.22 1046.10,1106.67 1049.10,1095.80 C1052.10,1084.93 1055.35,1072.48 1058.10,1066.50 C1060.85,1060.52 1063.10,1059.90 1065.60,1059.90 C1068.10,1059.90 1070.37,1060.02 1073.10,1066.50 C1075.83,1072.98 1079.02,1086.93 1082.00,1098.80 C1084.98,1110.67 1088.00,1125.72 1091.00,1137.70 C1094.00,1149.68 1097.00,1163.47 1100.00,1170.70 C1103.00,1177.93 1107.42,1179.36 1109.00,1181.10 C1110.58,1182.84 1109.42,1181.16 1109.50,1181.17 L1109.50,1181.90 L1002.00,1181.90 Z" fill="rgba(141,160,203,0.72)"/>
<path d="M812.00,1184.10 C826.57,1184.18 872.35,1184.75 899.40,1184.60 C926.45,1184.45 959.33,1183.78 974.30,1183.20 C989.27,1182.62 984.22,1181.73 989.20,1181.10 C994.18,1180.47 999.20,1181.63 1004.20,1179.40 C1009.20,1177.17 1014.72,1171.15 1019.20,1167.70 C1023.68,1164.25 1027.62,1164.70 1031.10,1158.70 C1034.58,1152.70 1037.10,1142.18 1040.10,1131.70 C1043.10,1121.22 1046.10,1106.67 1049.10,1095.80 C1052.10,1084.93 1055.35,1072.48 1058.10,1066.50 C1060.85,1060.52 1063.10,1059.90 1065.60,1059.90 C1068.10,1059.90 1070.37,1060.02 1073.10,1066.50 C1075.83,1072.98 1079.02,1086.93 1082.00,1098.80 C1084.98,1110.67 1088.00,1125.72 1091.00,1137.70 C1094.00,1149.68 1097.00,1163.47 1100.00,1170.70 C1103.00,1177.93 1103.92,1178.87 1109.00,1181.10 C1114.08,1183.33 1126.92,1183.60 1130.50,1184.10" fill="none" stroke="#A3B1D8" stroke-width="1.8"/>
<path d="M1002.00,1179.65 C1002.37,1179.61 1001.33,1181.39 1004.20,1179.40 C1007.07,1177.41 1014.72,1171.15 1019.20,1167.70 C1023.68,1164.25 1027.62,1164.70 1031.10,1158.70 C1034.58,1152.70 1037.10,1142.18 1040.10,1131.70 C1043.10,1121.22 1046.10,1106.67 1049.10,1095.80 C1052.10,1084.93 1055.35,1072.48 1058.10,1066.50 C1060.85,1060.52 1063.10,1059.90 1065.60,1059.90 C1068.10,1059.90 1070.37,1060.02 1073.10,1066.50 C1075.83,1072.98 1079.02,1086.93 1082.00,1098.80 C1084.98,1110.67 1088.00,1125.72 1091.00,1137.70 C1094.00,1149.68 1097.00,1163.47 1100.00,1170.70 C1103.00,1177.93 1107.42,1179.36 1109.00,1181.10 C1110.58,1182.84 1109.42,1181.16 1109.50,1181.17" fill="none" stroke="#A3B1D8" stroke-width="4.6" stroke-linecap="butt"/>
<path d="M1002.00,1179.65 C1002.37,1179.61 1001.33,1181.39 1004.20,1179.40 C1007.07,1177.41 1014.72,1171.15 1019.20,1167.70 C1023.68,1164.25 1027.62,1164.70 1031.10,1158.70 C1034.58,1152.70 1037.10,1142.18 1040.10,1131.70 C1043.10,1121.22 1046.10,1106.67 1049.10,1095.80 C1052.10,1084.93 1055.35,1072.48 1058.10,1066.50 C1060.85,1060.52 1063.10,1059.90 1065.60,1059.90 C1068.10,1059.90 1070.37,1060.02 1073.10,1066.50 C1075.83,1072.98 1079.02,1086.93 1082.00,1098.80 C1084.98,1110.67 1088.00,1125.72 1091.00,1137.70 C1094.00,1149.68 1097.00,1163.47 1100.00,1170.70 C1103.00,1177.93 1107.42,1179.36 1109.00,1181.10 C1110.58,1182.84 1109.42,1181.16 1109.50,1181.17" fill="none" stroke="#fff" stroke-width="1.3" stroke-linecap="butt"/>
<line x1="985.10" y1="1007.00" x2="985.10" y2="1185.00" stroke="#000" stroke-width="4.0" stroke-dasharray="22 9.2"/>
<text x="1177.30" y="880.70" font-size="55.00" font-weight="bold" fill="#000">f</text>
<clipPath id="fclip"><rect x="1262" y="883.9" width="470" height="452"/></clipPath>
<line x1="1264.30" y1="914.20" x2="1717.60" y2="914.20" stroke="#000" stroke-width="4.1" stroke-dasharray="33.2 13.6"/>
<line x1="1681.8" y1="1320.1" x2="1681.8" y2="883.7" stroke="#000" stroke-width="4.1" stroke-dasharray="32.1 14.5"/>
<g clip-path="url(#fclip)">
<polyline points="1268.20,1334.00 1268.30,1331.79 1268.31,1329.58 1268.16,1327.38 1268.15,1325.17 1268.21,1322.96 1268.30,1320.75 1268.26,1318.55 1268.03,1316.34 1268.03,1314.13 1268.23,1311.92 1268.29,1309.72 1268.20,1307.51 1268.07,1305.30 1268.15,1303.09 1268.23,1300.89 1268.24,1298.68 1268.39,1296.47 1268.35,1294.26 1268.04,1292.06 1267.98,1289.85 1268.23,1287.64 1268.36,1285.43 1268.21,1283.23 1268.09,1281.02 1268.06,1278.81 1268.00,1276.60 1268.03,1274.40 1268.16,1272.19 1268.17,1269.98 1268.09,1267.77 1268.04,1265.57 1268.08,1263.36 1268.13,1261.15 1268.07,1258.94 1268.09,1256.74 1268.28,1254.53 1268.34,1252.32 1268.24,1250.11 1268.24,1247.91 1268.42,1245.70 1268.38,1243.49 1268.14,1241.28 1268.15,1239.08 1268.33,1236.87 1268.43,1234.66 1268.42,1232.45 1268.35,1230.25 1268.38,1228.04 1268.33,1225.83 1268.22,1223.62 1268.31,1221.42 1268.46,1219.21 1268.44,1217.00 1268.33,1214.79 1268.20,1212.58 1268.06,1210.38 1268.13,1208.17 1268.30,1205.96 1268.22,1203.75 1268.14,1201.55 1268.25,1199.34 1268.37,1197.13 1268.33,1194.92 1268.24,1192.72 1268.22,1190.51 1268.30,1188.30 1268.37,1186.09 1268.30,1183.89 1268.23,1181.68 1268.16,1179.47 1268.02,1177.26 1268.06,1175.06 1268.34,1172.85 1268.49,1170.64 1268.37,1168.43 1268.19,1166.23 1268.14,1164.02 1268.30,1161.81 1268.49,1159.60 1268.46,1157.40 1268.40,1155.19 1268.36,1152.98 1268.25,1150.77 1268.32,1148.57 1268.45,1146.36 1268.38,1144.15 1268.24,1141.94 1268.20,1139.74 1268.34,1137.53 1268.37,1135.32 1268.24,1133.11 1268.36,1130.91 1268.52,1128.70 1268.52,1126.49 1268.50,1124.28 1268.44,1122.08 1268.36,1119.87 1268.30,1117.66 1268.20,1115.45 1268.19,1113.25 1268.36,1111.04 1268.33,1108.83 1268.21,1106.62 1268.24,1104.42 1268.27,1102.21 1268.22,1100.00 1268.23,1097.78 1268.31,1095.56 1268.38,1093.33 1268.37,1091.11 1268.24,1088.89 1268.10,1086.67 1268.09,1084.44 1268.18,1082.22 1268.36,1080.00 1268.53,1077.78 1268.55,1075.56 1268.55,1073.33 1268.46,1071.11 1268.37,1068.89 1268.45,1066.67 1268.40,1064.44 1268.15,1062.22 1268.03,1060.00 1268.15,1057.78 1268.32,1055.56 1268.26,1053.33 1268.21,1051.11 1268.32,1048.89 1268.27,1046.67 1268.14,1044.44 1268.19,1042.22 1268.28,1040.00 1268.24,1037.78 1268.29,1035.56 1268.42,1033.33 1268.39,1031.11 1268.33,1028.89 1268.28,1026.67 1268.22,1024.44 1268.27,1022.22 1268.31,1020.00 1268.23,1017.78 1268.30,1015.56 1268.50,1013.33 1268.45,1011.11 1268.35,1008.89 1268.47,1006.67 1268.48,1004.44 1268.24,1002.22 1268.13,1000.00 1268.28,997.78 1268.40,995.56 1268.41,993.33 1268.50,991.11 1268.56,988.89 1268.46,986.67 1268.46,984.44 1268.64,982.22 1268.66,980.00 1268.48,977.78 1268.41,975.56 1268.47,973.33 1268.49,971.11 1268.46,968.89 1268.46,966.67 1268.43,964.44 1268.33,962.22 1268.43,960.00 1268.71,957.73 1268.72,955.46 1268.62,953.18 1268.63,950.91 1268.66,948.64 1268.77,946.36 1268.77,944.09 1268.62,941.82 1268.48,939.54 1268.53,937.27 1268.67,935.00 1268.90,932.52 1269.29,930.05 1269.65,927.58 1269.71,925.08 1269.86,922.59 1270.70,920.01 1271.46,917.41 1272.00,914.76 1272.52,912.11 1273.77,910.11 1275.05,908.13 1276.39,906.19 1277.80,904.30 1279.88,903.10 1281.91,901.82 1284.02,900.68 1286.18,899.62 1288.28,898.46 1290.46,897.47 1292.67,896.57 1294.92,895.75 1297.08,894.74 1299.16,893.53 1301.33,892.49 1304.04,892.00 1306.75,891.53 1309.39,890.83 1311.99,889.94 1314.40,889.82 1316.80,889.90 1319.21,889.97 1321.61,889.84 1324.00,889.66 1326.40,889.62 1328.80,889.53 1331.19,889.42 1333.57,889.34 1335.95,889.16 1338.33,889.00 1340.70,888.78 1343.09,888.74 1345.47,888.80 1347.86,888.69 1350.24,888.64 1352.62,888.63 1355.00,888.51 1357.25,888.36 1359.50,888.22 1361.75,888.27 1364.00,888.39 1366.25,888.43 1368.50,888.46 1370.75,888.34 1373.00,888.11 1375.25,888.01 1377.50,887.89 1379.75,887.76 1382.00,887.87 1384.25,888.11 1386.50,888.20 1388.75,888.09 1391.00,887.94 1393.25,887.95 1395.50,887.96 1397.75,887.85 1400.00,887.76 1402.27,887.63 1404.54,887.55 1406.82,887.69 1409.09,887.87 1411.36,887.92 1413.64,887.90 1415.91,887.76 1418.18,887.69 1420.46,887.84 1422.73,887.79 1425.00,887.62 1427.27,887.59 1429.54,887.50 1431.82,887.53 1434.09,887.65 1436.36,887.52 1438.64,887.56 1440.91,887.75 1443.18,887.62 1445.45,887.41 1447.73,887.38 1450.00,887.49 1452.31,887.67 1454.62,887.78 1456.92,887.95 1459.23,888.11 1461.53,888.31 1463.84,888.39 1466.16,888.26 1468.47,888.27 1470.77,888.38 1473.08,888.48 1475.39,888.60 1477.70,888.58 1480.00,888.73 1482.28,888.79 1484.56,888.62 1486.83,888.42 1489.11,888.24 1491.38,887.97 1493.66,887.85 1495.95,887.96 1498.24,887.97 1500.50,887.68 1502.79,887.65 1505.07,887.86 1507.32,888.34 1509.59,888.72 1511.87,888.91 1514.16,889.13 1516.44,889.34 1518.73,889.50 1521.01,889.74 1523.24,890.02 1525.48,890.26 1527.72,890.55 1529.92,891.04 1532.12,891.56 1534.35,891.86 1536.58,892.16 1538.80,892.57 1541.02,892.90 1543.27,893.08 1545.51,893.28 1547.81,893.20 1550.13,893.23 1552.45,893.35 1554.77,893.29 1557.08,893.02 1559.39,892.90 1561.71,892.92 1564.02,892.90 1566.34,892.78 1568.65,892.55 1570.96,892.38 1573.28,892.32 1575.59,892.31 1577.87,892.30 1580.15,892.14 1582.43,892.08 1584.71,892.15 1586.99,892.14 1589.27,892.13 1591.55,892.11 1593.82,891.99 1596.10,891.79 1598.38,891.77 1600.66,891.74 1602.93,891.62 1605.21,891.59 1607.49,891.50 1609.77,891.54 1612.05,891.62 1614.33,891.44 1616.60,891.12 1618.88,891.25 1621.13,891.64 1623.39,891.96 1625.66,892.14 1627.93,892.32 1630.20,892.52 1632.48,892.73 1634.77,892.84 1637.04,893.12 1639.29,893.59 1641.56,893.91 1643.84,894.15 1646.12,894.37 1648.40,894.54 1650.69,894.65 1653.00,894.96 1655.29,895.36 1657.57,895.86 1659.82,896.44 1662.11,896.90 1664.44,897.17 1666.82,898.22 1669.09,899.48 1671.45,900.56 1673.85,901.46 1674.93,903.36 1675.99,905.30 1677.18,907.17 1678.36,909.04 1679.48,910.91 1681.54,911.82 1683.58,912.84 1685.57,913.96 1687.59,915.01 1688.34,917.46 1689.12,919.92 1689.82,922.39 1690.53,924.86 1691.23,927.34 1691.70,929.56 1692.17,931.77 1692.83,933.94 1693.47,936.11 1694.07,938.29 1694.81,940.44 1695.48,942.60 1695.95,944.82 1696.46,947.03 1697.06,949.21 1698.09,951.27 1699.07,953.34 1700.11,955.38 1701.25,957.39 1701.56,959.82 1701.88,962.24 1702.25,964.65 1702.51,967.08 1702.68,969.52 1702.84,971.96 1703.20,974.38 1703.67,976.78 1704.07,979.19 1704.45,981.41 1704.72,983.65 1704.74,985.91 1704.91,988.15 1705.23,990.38 1705.37,992.63 1705.57,994.87 1705.93,997.09 1706.11,999.34 1706.32,1001.58 1706.65,1003.80 1706.80,1006.15 1706.94,1008.50 1707.12,1010.84 1707.23,1013.19 1707.35,1015.54 1707.57,1017.88 1707.95,1020.21 1708.72,1022.45 1709.35,1024.72 1709.88,1027.02 1710.31,1029.34 1710.89,1031.62 1711.58,1033.89 1711.64,1036.18 1711.75,1038.46 1712.01,1040.72 1712.25,1042.99 1712.41,1045.27 1712.56,1047.55 1712.70,1049.82 1712.69,1052.11 1712.79,1054.39 1713.11,1056.65 1713.32,1058.93 1713.32,1061.22 1713.60,1063.54 1714.04,1065.84 1714.22,1068.17 1714.39,1070.50 1714.70,1072.82 1715.03,1075.13 1715.30,1077.45 1715.44,1079.79 1715.71,1082.11 1716.11,1084.41 1716.53,1086.64 1717.03,1088.85 1717.56,1091.06 1717.98,1093.28 1718.29,1095.53 1718.44,1097.80 1718.84,1100.02 1719.36,1102.62 1719.70,1105.24 1720.06,1107.87 1720.48,1110.47 1720.87,1112.75 1721.16,1115.04 1721.51,1117.33 1722.04,1119.58 1722.45,1121.85 1722.79,1124.14 1723.18,1126.42 1723.43,1128.72 1723.68,1131.01 1723.77,1133.28 1723.98,1135.55 1724.07,1137.82 1724.06,1140.10 1724.11,1142.37 1724.15,1144.65 1724.19,1146.92 1724.13,1149.20 1724.06,1151.48 1724.06,1153.76 1724.12,1156.03 1724.30,1158.30 1724.37,1160.57 1724.31,1162.85 1724.35,1165.12 1724.50,1167.39 1724.66,1169.66 1724.80,1171.93 1724.79,1174.20 1724.74,1176.48 1724.79,1178.75 1724.76,1181.02 1724.69,1183.30 1724.65,1185.57 1724.65,1187.84 1724.80,1190.11 1725.03,1192.38 1725.07,1194.65 1725.07,1196.93 1725.15,1199.20 1725.16,1201.48 1725.14,1203.76 1725.20,1206.03 1725.28,1208.31 1725.22,1210.59 1725.16,1212.87 1725.19,1215.14 1725.12,1217.42 1724.99,1219.70 1724.99,1221.98 1725.04,1224.26 1725.07,1226.53 1725.17,1228.81 1725.31,1231.09 1725.36,1233.37 1725.25,1235.64 1725.04,1237.92 1724.89,1240.20 1724.95,1242.48 1725.03,1244.76 1725.04,1247.04 1725.12,1249.32 1725.19,1251.60 1725.25,1253.87 1725.20,1256.16 1725.22,1258.43 1725.47,1260.71 1725.60,1262.99 1725.52,1265.27 1725.53,1267.55 1725.71,1269.82 1725.83,1272.10 1725.79,1274.38 1725.75,1276.66 1725.71,1278.94 1725.64,1281.22 1725.80,1283.50" fill="none" stroke="#66C2A5" stroke-width="9.0" stroke-linejoin="round" stroke-linecap="round"/>
<polyline points="1264.30,884.30 1266.51,884.30 1268.72,884.30 1270.94,884.30 1273.15,884.30 1275.36,884.30 1277.57,884.30 1279.79,884.30 1282.00,884.30 1284.21,884.30 1286.42,884.30 1288.63,884.30 1290.85,884.30 1293.06,884.30 1295.27,884.30 1297.48,884.30 1299.70,884.30 1301.91,884.30 1304.12,884.30 1306.33,884.30 1308.54,884.30 1310.76,884.30 1312.97,884.30 1315.18,884.30 1317.39,884.30 1319.60,884.30 1321.82,884.30 1324.03,884.30 1326.24,884.30 1328.45,884.30 1330.67,884.30 1332.88,884.30 1335.09,884.30 1337.30,884.30 1339.51,884.30 1341.73,884.30 1343.94,884.30 1346.15,884.30 1348.36,884.30 1350.58,884.30 1352.79,884.30 1355.00,884.30 1357.06,885.89 1359.03,887.63 1361.22,888.84 1363.23,890.39 1364.74,892.49 1366.28,894.55 1368.13,896.36 1369.76,897.86 1371.15,899.59 1372.55,901.31 1374.15,902.83 1375.76,904.25 1376.58,906.55 1377.07,909.04 1377.80,911.44 1379.00,913.69 1379.73,916.09 1380.05,918.36 1380.85,920.50 1381.99,922.54 1382.99,924.62 1383.48,926.85 1383.96,929.09 1384.23,931.28 1384.36,933.50 1384.61,935.69 1384.88,937.89 1385.13,940.08 1385.19,942.30 1385.52,944.49 1386.17,946.63 1386.50,948.82 1386.94,951.10 1387.64,953.30 1388.58,955.45 1389.23,957.67 1389.30,960.04 1389.41,962.39 1390.37,964.54 1391.49,966.52 1391.83,968.78 1392.23,971.03 1393.24,973.04 1394.38,975.01 1395.59,977.04 1396.76,979.08 1397.76,981.21 1398.92,983.26 1399.90,985.41 1400.44,987.62 1401.46,989.63 1402.04,991.80 1402.58,993.99 1403.82,995.88 1405.12,997.69 1406.06,999.81 1407.36,1001.66 1408.93,1003.32 1410.64,1005.03 1411.05,1007.37 1411.06,1009.64 1411.20,1011.89 1411.35,1014.15 1411.49,1016.40 1411.90,1018.62 1412.29,1020.85 1412.81,1023.06 1412.90,1025.32 1412.78,1027.60 1413.51,1029.73 1413.89,1031.90 1413.83,1034.15 1414.40,1036.29 1414.76,1038.47 1414.71,1040.71 1415.50,1042.83 1416.25,1044.95 1416.16,1047.20 1415.96,1049.46 1416.35,1051.63 1417.18,1053.75 1417.73,1056.05 1418.01,1058.39 1417.83,1060.78 1417.56,1063.18 1417.62,1065.54 1417.82,1067.89 1418.13,1070.22 1418.46,1072.55 1419.00,1074.88 1420.12,1077.08 1420.92,1079.34 1421.42,1081.68 1422.32,1083.91 1423.20,1086.15 1423.37,1088.58 1423.78,1090.95 1424.75,1093.16 1425.30,1095.47 1425.72,1097.81 1426.42,1100.08 1426.85,1102.41 1427.08,1104.79 1427.73,1107.07 1428.37,1109.36 1429.13,1111.61 1429.90,1113.87 1430.29,1116.22 1430.89,1118.56 1431.61,1120.87 1432.00,1123.23 1432.30,1125.60 1432.40,1128.01 1432.31,1130.45 1432.29,1132.88 1432.26,1135.31 1432.41,1137.71 1433.20,1140.12 1435.16,1142.06 1436.73,1144.09 1437.97,1146.32 1439.04,1148.65 1440.08,1151.00 1441.24,1153.23 1442.23,1155.19 1443.44,1157.13 1444.23,1159.23 1445.09,1161.30 1446.29,1163.13 1447.60,1164.85 1448.70,1166.85 1449.85,1168.81 1450.97,1170.80 1452.54,1172.53 1453.58,1174.67 1454.19,1176.86 1454.75,1179.07 1455.23,1181.31 1455.60,1183.57 1456.23,1185.77 1456.69,1187.96 1457.09,1190.16 1457.45,1192.36 1457.34,1194.66 1457.48,1196.92 1458.31,1199.03 1459.15,1201.13 1459.64,1203.32 1460.24,1205.43 1462.11,1207.16 1463.60,1209.24 1465.12,1211.30 1466.96,1212.97 1469.13,1214.33 1471.18,1216.08 1473.49,1217.40 1475.68,1218.83 1476.66,1221.16 1478.23,1223.19 1479.67,1225.30 1480.77,1227.61 1482.50,1229.54 1484.05,1231.44 1485.95,1232.72 1488.15,1233.74 1490.17,1235.08 1491.99,1236.78 1494.23,1237.73 1496.58,1238.37 1498.72,1239.14 1500.86,1240.05 1503.10,1240.65 1505.33,1241.28 1507.55,1241.95 1509.83,1242.41 1512.05,1243.10 1514.11,1244.28 1515.96,1245.82 1518.06,1246.97 1520.04,1248.31 1522.02,1249.66 1523.97,1251.03 1525.90,1252.45 1527.78,1253.94 1530.01,1254.85 1532.41,1255.24 1534.85,1255.52 1537.18,1256.11 1539.34,1257.23 1541.39,1258.65 1543.56,1259.76 1545.81,1260.60 1548.25,1260.90 1550.63,1260.83 1552.82,1261.66 1555.00,1262.56 1557.29,1262.89 1559.63,1262.99 1561.94,1263.22 1564.17,1264.12 1566.42,1264.94 1568.77,1265.38 1571.07,1266.03 1573.25,1267.05 1575.44,1268.14 1577.71,1268.76 1579.99,1269.23 1582.33,1269.36 1584.74,1269.15 1587.06,1269.39 1589.31,1269.96 1591.59,1270.40 1593.82,1271.06 1596.00,1272.00 1598.23,1272.68 1600.53,1273.03 1602.88,1273.17 1605.19,1272.77 1607.46,1273.13 1609.71,1273.62 1612.01,1273.31 1614.30,1273.06 1616.59,1272.95 1618.85,1273.34 1621.08,1274.41 1623.33,1274.89 1625.64,1274.39 1627.95,1273.84 1630.19,1273.82 1632.45,1273.86 1634.78,1274.07 1637.08,1273.96 1639.34,1273.51 1641.59,1273.01 1643.92,1272.61 1646.16,1273.53 1648.32,1274.55 1650.67,1274.65 1653.06,1274.51 1655.29,1275.17 1657.53,1275.81 1659.81,1276.22 1662.05,1276.87 1664.32,1277.33 1666.62,1277.65 1668.87,1278.22 1671.06,1279.03 1673.33,1279.56 1675.75,1279.55 1678.12,1279.69 1680.43,1280.12 1682.71,1280.69 1684.85,1281.79 1687.07,1282.58 1689.45,1282.71 1691.73,1283.23 1693.98,1283.46 1696.25,1283.65 1698.50,1284.20 1700.75,1284.61 1703.04,1284.48 1705.32,1284.50 1707.59,1284.69 1709.88,1284.62 1712.15,1284.80 1714.41,1285.12 1716.68,1285.36 1718.96,1285.30 1721.26,1285.00 1723.53,1285.10 1725.80,1285.30" fill="none" stroke="#FC8D62" stroke-width="9.0" stroke-linejoin="round" stroke-linecap="round"/>
<polyline points="1264.30,884.30 1266.53,884.30 1268.77,884.30 1271.00,884.30 1273.24,884.30 1275.47,884.30 1277.70,884.30 1279.94,884.30 1282.17,884.30 1284.41,884.30 1286.64,884.30 1288.87,884.30 1291.11,884.30 1293.34,884.30 1295.58,884.30 1297.81,884.30 1300.04,884.30 1302.28,884.30 1304.51,884.30 1306.75,884.30 1308.98,884.30 1311.21,884.30 1313.45,884.30 1315.68,884.30 1317.92,884.30 1320.15,884.30 1322.38,884.30 1324.62,884.30 1326.85,884.30 1329.09,884.30 1331.32,884.30 1333.55,884.30 1335.79,884.30 1338.02,884.30 1340.26,884.30 1342.49,884.30 1344.72,884.30 1346.96,884.30 1349.19,884.30 1351.43,884.30 1353.66,884.30 1355.89,884.30 1358.13,884.30 1360.36,884.30 1362.60,884.30 1364.83,884.30 1367.06,884.30 1369.30,884.30 1371.53,884.30 1373.77,884.30 1376.00,884.30 1378.33,884.83 1380.67,885.37 1382.81,886.71 1385.27,886.70 1387.68,886.89 1389.94,887.96 1392.21,888.46 1394.44,888.29 1396.66,888.00 1398.89,887.73 1401.11,887.62 1403.33,887.91 1405.55,887.84 1407.78,887.29 1410.01,887.35 1412.22,888.20 1414.44,888.31 1416.67,887.82 1418.89,887.92 1421.11,887.76 1423.34,887.37 1425.56,887.67 1427.77,888.36 1430.03,888.31 1433.21,887.27 1436.64,886.65 1438.08,889.17 1439.19,891.60 1440.27,894.05 1441.18,896.58 1442.10,898.73 1443.33,900.75 1444.48,902.80 1446.09,904.62 1447.48,906.62 1447.94,908.95 1448.75,911.13 1449.34,913.37 1449.49,915.72 1449.97,917.99 1450.98,920.12 1451.48,922.42 1451.15,924.70 1451.15,926.92 1450.98,929.16 1451.18,931.36 1451.94,933.51 1452.30,935.67 1453.19,937.84 1454.12,940.00 1455.19,942.10 1456.28,944.18 1457.14,946.38 1458.09,948.63 1459.48,950.66 1460.71,952.77 1461.78,954.96 1463.16,956.99 1464.09,959.26 1464.25,961.66 1465.01,963.87 1466.17,965.97 1467.16,968.11 1467.59,970.42 1468.16,972.69 1468.99,974.85 1469.70,977.17 1470.72,979.39 1472.04,981.45 1472.88,983.75 1473.70,986.06 1474.77,988.24 1475.86,990.43 1477.02,992.49 1478.51,994.33 1480.47,995.84 1481.83,997.76 1482.48,1000.19 1483.57,1002.19 1484.48,1004.15 1485.01,1006.30 1485.33,1008.48 1485.97,1010.61 1486.53,1012.74 1486.97,1014.91 1487.25,1017.10 1487.58,1019.29 1488.11,1021.58 1488.36,1023.92 1488.68,1026.25 1489.36,1028.51 1489.47,1030.87 1489.62,1033.26 1491.15,1035.40 1492.30,1037.69 1493.19,1040.12 1494.62,1042.27 1496.00,1044.54 1496.02,1046.99 1496.31,1049.32 1497.09,1051.56 1497.55,1053.86 1497.54,1056.24 1497.60,1058.61 1497.92,1060.93 1498.44,1063.22 1499.25,1065.44 1499.97,1067.74 1500.13,1070.22 1500.64,1072.60 1501.79,1074.78 1502.99,1076.87 1504.35,1078.98 1505.55,1081.27 1506.77,1083.56 1507.72,1086.01 1509.06,1088.15 1510.25,1090.18 1510.79,1092.44 1510.84,1094.82 1511.22,1097.12 1511.96,1099.33 1513.05,1101.45 1514.01,1103.60 1514.26,1105.91 1514.92,1108.18 1516.16,1110.21 1517.31,1112.28 1518.20,1114.48 1519.17,1116.64 1519.92,1118.89 1520.79,1121.09 1522.24,1122.94 1523.15,1125.02 1523.16,1127.46 1523.54,1129.75 1524.59,1131.77 1525.69,1133.77 1526.31,1135.96 1527.28,1138.03 1528.77,1140.04 1529.58,1142.35 1530.34,1144.69 1531.56,1146.81 1532.93,1148.86 1534.23,1150.95 1535.37,1153.10 1536.58,1155.27 1537.33,1157.66 1537.82,1160.10 1538.37,1162.52 1539.17,1164.86 1540.03,1167.18 1540.43,1169.65 1540.88,1172.16 1541.92,1174.53 1542.97,1176.86 1544.27,1179.06 1546.00,1181.05 1547.49,1183.16 1548.47,1185.53 1549.31,1187.77 1549.96,1190.04 1550.27,1192.42 1550.97,1194.69 1551.56,1196.98 1552.01,1199.51 1554.43,1200.81 1556.89,1201.75 1559.03,1203.20 1560.99,1204.93 1563.05,1206.31 1564.13,1208.56 1565.51,1210.78 1566.74,1213.07 1567.36,1215.63 1569.35,1217.12 1571.51,1218.31 1573.34,1220.01 1575.16,1221.73 1577.24,1223.05 1579.53,1223.99 1581.30,1225.45 1582.38,1227.49 1583.62,1229.40 1585.50,1230.84 1587.03,1232.54 1588.19,1234.51 1589.38,1236.47 1590.70,1238.33 1591.95,1240.26 1594.17,1241.57 1596.70,1242.38 1599.05,1243.46 1601.18,1244.91 1603.32,1246.25 1605.37,1247.77 1607.25,1249.73 1609.56,1250.83 1612.15,1251.37 1614.46,1252.46 1616.72,1253.62 1619.01,1254.44 1621.20,1255.53 1623.35,1256.72 1625.63,1257.59 1628.03,1258.14 1630.40,1258.83 1632.72,1259.82 1634.96,1260.93 1637.06,1262.38 1639.25,1263.62 1641.72,1264.24 1644.04,1264.81 1646.16,1264.77 1648.45,1265.09 1650.74,1265.47 1653.02,1265.49 1655.30,1265.30 1657.58,1265.37 1659.85,1265.22 1662.12,1264.80 1664.43,1264.62 1666.65,1265.75 1668.87,1266.79 1671.15,1267.65 1673.41,1268.58 1675.76,1269.28 1678.11,1270.00 1680.26,1271.18 1682.53,1272.09 1684.91,1272.61 1687.13,1272.99 1689.34,1273.77 1691.53,1274.64 1693.81,1274.98 1696.13,1275.03 1698.37,1275.57 1700.66,1275.80 1703.02,1275.61 1705.33,1275.70 1707.59,1276.16 1709.79,1276.98 1711.98,1277.65 1714.19,1278.43 1716.49,1279.07 1718.81,1279.60 1721.12,1280.20 1723.52,1280.50 1725.80,1281.20" fill="none" stroke="#8DA0CB" stroke-width="9.0" stroke-linejoin="round" stroke-linecap="round"/>
<polyline points="1281.00,884.30 1281.80,886.54 1281.85,888.83 1282.16,891.10 1282.37,893.38 1281.93,895.70 1281.41,898.03 1281.44,900.32 1282.01,902.58 1282.61,904.83 1282.87,907.10 1283.20,909.37 1283.76,911.95 1284.09,914.56 1283.87,917.23 1283.35,919.93 1283.34,922.58 1283.70,924.78 1284.32,926.92 1285.20,929.04 1285.51,931.23 1285.31,933.48 1285.23,935.71 1285.30,937.93 1285.92,940.08 1286.76,942.20 1286.87,944.41 1286.88,946.64 1287.48,948.79 1287.81,951.11 1287.91,953.43 1287.75,955.75 1287.11,958.08 1286.94,960.40 1287.50,962.71 1287.66,965.02 1287.35,967.35 1287.26,969.67 1287.16,971.99 1287.26,974.30 1287.74,976.61 1287.97,978.93 1287.95,981.25 1288.23,983.56 1288.58,985.87 1288.33,988.20 1288.17,990.58 1288.79,992.95 1288.94,995.33 1288.55,997.72 1288.53,1000.11 1288.53,1002.49 1288.58,1004.87 1288.45,1007.26 1288.30,1009.64 1288.75,1012.02 1289.13,1014.39 1289.09,1016.85 1289.02,1019.32 1289.21,1021.78 1289.20,1024.24 1289.04,1026.72 1289.25,1029.17 1289.12,1031.64 1289.14,1034.12 1290.07,1036.25 1290.68,1038.40 1290.44,1040.64 1290.06,1042.89 1290.36,1045.07 1291.02,1047.22 1291.42,1049.39 1291.60,1051.59 1291.82,1053.78 1291.98,1055.98 1291.60,1058.23 1291.21,1060.46 1291.25,1062.71 1291.44,1064.99 1291.93,1067.25 1292.79,1069.49 1292.74,1071.77 1292.05,1074.09 1292.19,1076.36 1292.50,1078.63 1292.40,1080.91 1292.45,1083.19 1292.80,1085.46 1293.42,1087.71 1293.78,1089.98 1293.81,1092.30 1293.95,1094.62 1293.61,1096.95 1293.26,1099.28 1293.88,1101.58 1294.64,1103.88 1294.79,1106.19 1294.37,1108.53 1293.93,1110.86 1294.17,1113.17 1294.67,1115.48 1294.51,1117.80 1294.03,1120.14 1294.35,1122.45 1295.05,1124.74 1295.41,1127.05 1295.51,1129.38 1295.15,1131.71 1294.86,1134.03 1295.26,1136.34 1295.47,1138.66 1295.21,1140.98 1294.85,1143.31 1294.69,1145.63 1295.06,1147.94 1295.00,1150.26 1294.74,1152.58 1294.73,1154.90 1294.62,1157.22 1295.03,1159.53 1295.52,1161.84 1295.71,1164.16 1295.86,1166.47 1295.78,1168.78 1295.61,1171.15 1295.23,1173.56 1295.32,1175.93 1296.18,1178.23 1296.95,1180.55 1297.17,1182.90 1297.28,1185.27 1297.51,1187.63 1297.35,1190.02 1297.24,1192.41 1298.12,1194.55 1298.53,1196.78 1298.21,1199.13 1298.29,1201.42 1298.74,1203.64 1299.26,1205.85 1299.56,1208.09 1299.88,1210.33 1300.28,1212.56 1300.79,1214.82 1302.17,1216.86 1303.53,1218.87 1304.16,1221.17 1304.30,1223.68 1304.80,1226.03 1305.97,1228.18 1307.69,1229.82 1308.90,1231.72 1310.00,1233.71 1311.30,1235.55 1312.59,1237.26 1313.10,1239.57 1313.49,1242.00 1314.00,1244.41 1314.46,1246.83 1314.35,1249.34 1314.82,1251.75 1315.66,1254.12 1317.01,1256.63 1318.49,1259.03 1320.73,1260.78 1321.46,1262.91 1321.66,1265.18 1321.95,1267.44 1321.99,1269.74 1322.56,1271.95 1323.70,1274.06 1323.99,1276.18 1325.00,1278.29 1326.28,1280.35 1327.57,1282.40 1329.15,1284.22 1331.27,1285.61 1332.87,1287.42 1334.06,1289.55 1335.66,1291.64 1337.21,1293.76 1338.78,1295.87 1340.09,1298.17 1341.36,1300.53 1343.09,1302.46 1344.84,1304.35 1346.63,1306.20 1348.51,1307.98 1350.68,1307.63 1352.89,1307.52 1355.13,1307.58 1357.32,1307.30 1359.46,1306.63 1361.60,1305.96 1363.72,1305.14 1365.91,1304.89 1368.26,1305.15 1369.64,1307.43 1371.10,1309.54 1372.98,1311.30 1374.88,1312.83 1377.16,1313.00 1379.62,1313.43 1382.09,1313.10 1384.55,1312.86 1387.01,1313.48 1389.48,1313.52 1391.94,1312.95 1394.43,1312.96 1396.58,1313.84 1398.74,1314.52 1401.02,1314.78 1403.26,1315.17 1405.32,1316.24 1407.46,1317.01 1409.83,1316.94 1412.06,1317.35 1414.10,1318.63 1416.39,1318.54 1418.52,1317.80 1420.69,1317.30 1422.96,1317.22 1425.10,1316.54 1427.21,1315.72 1429.43,1315.40 1431.56,1314.72 1433.75,1314.31 1436.05,1314.05 1438.26,1313.44 1440.40,1312.62 1442.57,1311.87 1444.77,1311.26 1446.85,1310.22 1448.98,1309.35 1451.25,1308.96 1453.48,1308.42 1455.77,1308.09 1458.08,1307.82 1460.12,1306.78 1462.60,1306.24 1465.06,1306.50 1467.49,1307.06 1469.94,1307.43 1472.40,1307.70 1474.88,1307.52 1477.38,1307.21 1479.77,1307.68 1482.14,1307.60 1484.44,1307.06 1486.81,1306.80 1489.18,1306.51 1491.42,1305.71 1493.68,1304.98 1495.93,1304.22 1498.22,1303.64 1500.57,1303.33 1502.86,1302.95 1505.12,1302.41 1507.38,1301.84 1509.70,1301.62 1512.00,1301.29 1514.22,1300.51 1516.41,1299.62 1518.67,1299.08 1521.00,1298.92 1523.27,1299.10 1525.56,1299.03 1527.85,1298.71 1530.14,1298.51 1532.40,1299.03 1534.65,1299.57 1536.92,1299.75 1539.19,1300.03 1541.47,1300.07 1543.75,1300.00 1546.03,1300.13 1548.29,1300.13 1550.49,1299.42 1552.83,1299.29 1555.17,1299.17 1557.39,1298.44 1559.65,1297.91 1561.91,1297.34 1564.11,1296.53 1566.32,1295.75 1568.67,1295.64 1571.13,1296.12 1573.48,1296.02 1575.70,1295.47 1577.95,1295.32 1580.20,1294.83 1582.42,1294.05 1584.69,1293.80 1586.98,1293.76 1589.28,1293.77 1591.59,1293.89 1593.88,1293.78 1596.12,1293.22 1598.34,1292.47 1600.63,1292.38 1602.94,1292.51 1605.22,1292.30 1607.49,1292.09 1609.76,1291.74 1612.02,1291.40 1614.31,1291.28 1616.57,1290.94 1618.85,1290.80 1621.16,1290.90 1623.41,1290.41 1625.63,1289.61 1627.88,1289.13 1630.17,1289.13 1632.52,1289.37 1634.87,1289.54 1637.12,1289.02 1639.31,1288.09 1641.58,1287.70 1643.88,1287.52 1646.11,1286.90 1648.33,1286.19 1650.56,1285.58 1652.86,1285.40 1655.22,1285.62 1657.54,1285.60 1659.80,1285.22 1662.08,1284.99 1664.40,1285.09 1666.65,1284.56 1668.86,1283.59 1671.22,1283.50 1673.36,1284.89 1675.53,1285.81 1677.85,1286.02 1680.22,1285.94 1682.61,1285.78 1684.89,1285.92 1687.12,1286.11 1689.37,1286.71 1691.60,1287.60 1693.86,1288.04 1696.17,1287.71 1698.49,1287.16 1700.78,1287.10 1703.03,1287.73 1705.30,1288.20 1707.58,1287.88 1709.87,1287.92 1712.16,1287.92 1714.44,1287.78 1716.72,1287.62 1718.97,1287.07 1721.22,1286.62 1723.48,1286.17 1725.80,1286.60" fill="none" stroke="#E78AC3" stroke-width="9.0" stroke-linejoin="round" stroke-linecap="round"/>
<polyline points="1264.30,884.30 1266.53,884.30 1268.77,884.30 1271.00,884.30 1273.24,884.30 1275.47,884.30 1277.70,884.30 1279.94,884.30 1282.17,884.30 1284.41,884.30 1286.64,884.30 1288.87,884.30 1291.11,884.30 1293.34,884.30 1295.58,884.30 1297.81,884.30 1300.04,884.30 1302.28,884.30 1304.51,884.30 1306.75,884.30 1308.98,884.30 1311.21,884.30 1313.45,884.30 1315.68,884.30 1317.92,884.30 1320.15,884.30 1322.38,884.30 1324.62,884.30 1326.85,884.30 1329.09,884.30 1331.32,884.30 1333.55,884.30 1335.79,884.30 1338.02,884.30 1340.26,884.30 1342.49,884.30 1344.72,884.30 1346.96,884.30 1349.19,884.30 1351.43,884.30 1353.66,884.30 1355.89,884.30 1358.13,884.30 1360.36,884.30 1362.60,884.30 1364.83,884.30 1367.06,884.30 1369.30,884.30 1371.53,884.30 1373.77,884.30 1376.00,884.30 1377.17,886.65 1377.90,889.20 1379.13,891.52 1380.44,893.81 1381.31,896.30 1382.97,898.23 1384.69,900.13 1386.24,902.16 1388.01,904.04 1388.36,906.36 1388.96,908.57 1390.02,910.65 1390.52,912.89 1391.10,915.12 1392.03,917.19 1393.75,919.00 1395.24,921.00 1396.06,923.41 1396.95,925.78 1398.35,927.82 1398.81,930.15 1399.07,932.55 1400.02,934.73 1401.38,936.77 1402.33,938.94 1402.76,941.29 1403.50,943.53 1404.49,945.71 1404.90,948.08 1405.24,950.48 1406.34,952.63 1407.45,954.76 1408.13,957.05 1409.17,959.20 1410.14,961.41 1410.51,963.89 1411.29,966.19 1412.35,968.38 1413.17,970.67 1414.31,972.83 1415.66,974.90 1416.61,977.10 1417.57,979.30 1418.46,981.51 1418.92,983.87 1418.91,986.38 1419.50,988.69 1421.02,990.66 1422.22,992.74 1422.73,995.22 1423.93,997.33 1425.50,999.24 1426.70,1001.35 1427.48,1003.69 1428.41,1005.95 1429.82,1007.94 1431.21,1009.88 1432.15,1012.02 1432.90,1014.26 1434.11,1016.28 1434.91,1018.49 1435.67,1020.72 1436.90,1022.74 1437.59,1025.12 1439.70,1026.44 1441.92,1027.21 1444.17,1027.71 1445.05,1029.73 1445.66,1031.88 1445.86,1034.12 1446.01,1036.37 1446.58,1038.53 1446.86,1040.76 1446.71,1043.06 1446.95,1045.29 1447.62,1047.44 1448.53,1049.53 1449.08,1051.69 1449.37,1053.91 1450.04,1056.05 1450.76,1058.19 1451.31,1060.35 1451.83,1062.52 1451.83,1064.80 1451.52,1067.24 1452.51,1069.48 1453.97,1071.38 1455.40,1073.29 1456.80,1075.22 1458.10,1077.20 1458.90,1079.60 1459.38,1082.16 1460.41,1084.44 1461.77,1086.56 1462.72,1088.89 1463.68,1091.21 1464.87,1093.35 1465.33,1095.60 1465.90,1097.89 1466.55,1100.17 1467.07,1102.47 1467.68,1104.76 1467.99,1107.10 1468.60,1109.26 1469.69,1111.18 1470.76,1113.11 1471.42,1115.24 1472.38,1117.23 1473.83,1118.97 1475.14,1120.84 1475.57,1123.10 1475.89,1125.32 1476.24,1127.54 1476.57,1129.76 1476.91,1131.98 1477.35,1134.18 1478.04,1136.32 1478.80,1138.44 1479.21,1140.67 1480.09,1142.98 1481.34,1145.06 1482.67,1147.10 1483.56,1149.37 1484.53,1151.60 1485.78,1153.82 1487.56,1155.66 1489.47,1157.18 1491.63,1158.42 1493.75,1159.69 1495.62,1161.29 1496.45,1163.54 1497.56,1165.57 1499.14,1167.28 1500.44,1169.18 1501.61,1171.17 1503.14,1172.91 1504.67,1174.66 1505.58,1177.04 1506.57,1179.38 1507.84,1181.58 1509.07,1183.80 1510.05,1186.14 1511.05,1188.58 1513.09,1190.19 1515.28,1191.46 1517.64,1192.51 1519.64,1194.01 1521.29,1195.95 1523.16,1197.63 1525.19,1199.11 1526.59,1201.11 1528.27,1202.86 1530.19,1204.41 1531.76,1206.25 1533.44,1208.00 1534.98,1209.45 1537.41,1209.78 1540.12,1210.28 1542.85,1210.56 1545.73,1210.77 1547.90,1212.10 1549.78,1213.59 1551.70,1215.02 1553.65,1216.39 1555.74,1217.51 1557.81,1218.69 1559.84,1219.92 1562.08,1220.77 1564.41,1221.78 1566.62,1223.06 1568.94,1224.11 1571.16,1225.37 1573.28,1226.84 1575.69,1227.71 1577.84,1228.24 1579.83,1229.21 1581.88,1230.03 1583.90,1230.94 1585.89,1231.90 1587.81,1233.05 1589.68,1234.31 1591.79,1234.98 1593.95,1235.52 1595.94,1236.44 1598.25,1237.48 1600.75,1238.17 1603.09,1239.18 1605.19,1240.65 1607.26,1242.18 1609.37,1243.73 1611.68,1244.67 1614.16,1245.07 1616.51,1245.80 1618.81,1246.67 1621.32,1246.99 1623.65,1247.78 1625.48,1249.15 1627.51,1250.01 1629.65,1250.62 1631.54,1251.83 1633.49,1252.90 1635.68,1253.36 1637.86,1253.87 1639.97,1254.54 1641.89,1255.67 1643.73,1256.89 1645.60,1258.45 1647.37,1260.24 1649.25,1261.87 1651.55,1262.99 1653.58,1264.43 1655.31,1266.25 1657.42,1267.70 1659.80,1267.54 1662.06,1267.99 1664.31,1268.63 1666.62,1268.57 1668.94,1268.42 1671.29,1268.56 1673.60,1269.48 1675.77,1270.64 1678.04,1271.55 1680.31,1272.47 1682.39,1273.83 1684.71,1274.63 1687.21,1274.99 1689.50,1275.87 1691.65,1277.11 1693.75,1278.47 1696.07,1279.28 1698.57,1279.56 1700.86,1279.56 1703.09,1280.25 1705.29,1281.06 1707.59,1281.27 1709.88,1281.50 1712.13,1281.96 1714.39,1282.39 1716.65,1282.86 1718.96,1282.99 1721.27,1283.08 1723.53,1283.53 1725.80,1283.90" fill="none" stroke="#A6D854" stroke-width="9.0" stroke-linejoin="round" stroke-linecap="round"/>
</g>
<line x1="1264.60" y1="880.40" x2="1264.60" y2="1337.80" stroke="#000" stroke-width="5.3"/>
<line x1="1261.00" y1="1335.30" x2="1730.60" y2="1335.30" stroke="#000" stroke-width="5.3"/>
<line x1="1252.20" y1="884.30" x2="1264.60" y2="884.30" stroke="#000" stroke-width="6.6"/>
<text x="1215.12" y="892.53" font-size="25.30" fill="#000">1.0</text>
<line x1="1252.20" y1="944.40" x2="1264.60" y2="944.40" stroke="#000" stroke-width="6.6"/>
<text x="1215.37" y="952.63" font-size="25.30" fill="#000">0.9</text>
<line x1="1252.20" y1="1004.50" x2="1264.60" y2="1004.50" stroke="#000" stroke-width="6.6"/>
<text x="1215.25" y="1012.73" font-size="25.30" fill="#000">0.8</text>
<line x1="1252.20" y1="1064.60" x2="1264.60" y2="1064.60" stroke="#000" stroke-width="6.6"/>
<text x="1215.50" y="1072.83" font-size="25.30" fill="#000">0.7</text>
<line x1="1252.20" y1="1124.70" x2="1264.60" y2="1124.70" stroke="#000" stroke-width="6.6"/>
<text x="1215.25" y="1132.93" font-size="25.30" fill="#000">0.6</text>
<line x1="1252.20" y1="1184.80" x2="1264.60" y2="1184.80" stroke="#000" stroke-width="6.6"/>
<text x="1215.25" y="1193.03" font-size="25.30" fill="#000">0.5</text>
<line x1="1252.20" y1="1244.90" x2="1264.60" y2="1244.90" stroke="#000" stroke-width="6.6"/>
<text x="1214.99" y="1253.13" font-size="25.30" fill="#000">0.4</text>
<line x1="1252.20" y1="1305.00" x2="1264.60" y2="1305.00" stroke="#000" stroke-width="6.6"/>
<text x="1215.25" y="1313.23" font-size="25.30" fill="#000">0.3</text>
<line x1="1264.30" y1="1335.30" x2="1264.30" y2="1347.70" stroke="#000" stroke-width="7.0"/>
<text x="1248.32" y="1369.29" font-size="25.20" fill="#000">0.0</text>
<line x1="1356.76" y1="1335.30" x2="1356.76" y2="1347.70" stroke="#000" stroke-width="7.0"/>
<text x="1340.97" y="1369.29" font-size="25.20" fill="#000">0.2</text>
<line x1="1449.22" y1="1335.30" x2="1449.22" y2="1347.70" stroke="#000" stroke-width="7.0"/>
<text x="1433.18" y="1369.29" font-size="25.20" fill="#000">0.4</text>
<line x1="1541.68" y1="1335.30" x2="1541.68" y2="1347.70" stroke="#000" stroke-width="7.0"/>
<text x="1525.77" y="1369.29" font-size="25.20" fill="#000">0.6</text>
<line x1="1634.14" y1="1335.30" x2="1634.14" y2="1347.70" stroke="#000" stroke-width="7.0"/>
<text x="1618.23" y="1369.29" font-size="25.20" fill="#000">0.8</text>
<line x1="1726.60" y1="1335.30" x2="1726.60" y2="1347.70" stroke="#000" stroke-width="7.0"/>
<text x="1710.18" y="1369.29" font-size="25.20" fill="#000">1.0</text>
<text x="1461.78" y="1395.70" font-size="31.44" fill="#000">Recall</text>
<text x="1205.10" y="1160.10" font-size="31.20" fill="#000" transform="rotate(-90 1205.10 1160.10)">Precision</text>
<line x1="1752.00" y1="917.30" x2="1797.30" y2="917.30" stroke="#66C2A5" stroke-width="8.9" stroke-linecap="round"/>
<text x="1810.94" y="925.30" font-size="31.70" fill="#000">WT-Cas9</text>
<text x="1810.00" y="951.00" font-size="31.70" fill="#000">(90%)</text>
<line x1="1752.00" y1="976.00" x2="1797.30" y2="976.00" stroke="#FC8D62" stroke-width="8.9" stroke-linecap="round"/>
<text x="1809.51" y="984.00" font-size="31.70" fill="#000">Cas9-HF1</text>
<text x="1810.00" y="1009.70" font-size="31.70" fill="#000">(25%)</text>
<line x1="1752.00" y1="1034.70" x2="1797.30" y2="1034.70" stroke="#8DA0CB" stroke-width="8.9" stroke-linecap="round"/>
<text x="1809.83" y="1042.70" font-size="31.70" fill="#000">eCas9-1.1</text>
<text x="1810.00" y="1068.40" font-size="31.70" fill="#000">(40%)</text>
<line x1="1752.00" y1="1093.40" x2="1797.30" y2="1093.40" stroke="#E78AC3" stroke-width="8.9" stroke-linecap="round"/>
<text x="1809.83" y="1101.40" font-size="31.70" fill="#000">evoCas9</text>
<text x="1810.00" y="1127.10" font-size="31.70" fill="#000">(4%)</text>
<line x1="1752.00" y1="1152.10" x2="1797.30" y2="1152.10" stroke="#A6D854" stroke-width="8.9" stroke-linecap="round"/>
<text x="1808.56" y="1160.10" font-size="31.70" fill="#000">HypaCas9</text>
<text x="1810.00" y="1185.80" font-size="31.70" fill="#000">(27%)</text>
<text x="-1.80" y="1446.20" font-size="55.00" font-weight="bold" fill="#000">g</text>
<rect x="156.00" y="1509.22" width="25.70" height="395.68" fill="#84C4AE"/>
<rect x="190.20" y="1490.84" width="25.70" height="414.06" fill="#FBAB8C"/>
<rect x="224.40" y="1517.10" width="25.70" height="387.80" fill="#ABBBDB"/>
<rect x="258.60" y="1504.40" width="25.70" height="400.50" fill="#ECACD6"/>
<rect x="315.25" y="1794.16" width="25.70" height="110.74" fill="#84C4AE"/>
<rect x="349.45" y="1570.06" width="25.70" height="334.84" fill="#FBAB8C"/>
<rect x="383.65" y="1819.99" width="25.70" height="84.91" fill="#ABBBDB"/>
<rect x="417.85" y="1798.10" width="25.70" height="106.80" fill="#ECACD6"/>
<rect x="474.50" y="1728.51" width="25.70" height="176.39" fill="#84C4AE"/>
<rect x="508.70" y="1513.16" width="25.70" height="391.74" fill="#FBAB8C"/>
<rect x="542.90" y="1758.71" width="25.70" height="146.19" fill="#ABBBDB"/>
<rect x="577.10" y="1727.63" width="25.70" height="177.27" fill="#ECACD6"/>
<rect x="633.75" y="1873.39" width="25.70" height="31.51" fill="#84C4AE"/>
<rect x="667.95" y="1754.77" width="25.70" height="150.13" fill="#FBAB8C"/>
<rect x="736.35" y="1877.32" width="25.70" height="27.58" fill="#ECACD6"/>
<rect x="793.00" y="1785.41" width="25.70" height="119.49" fill="#84C4AE"/>
<rect x="827.20" y="1583.63" width="25.70" height="321.27" fill="#FBAB8C"/>
<rect x="861.40" y="1789.35" width="25.70" height="115.55" fill="#ABBBDB"/>
<rect x="895.60" y="1789.35" width="25.70" height="115.55" fill="#ECACD6"/>
<line x1="146.90" y1="1463.70" x2="146.90" y2="1908.80" stroke="#000" stroke-width="7.8"/>
<line x1="126.00" y1="1904.90" x2="930.60" y2="1904.90" stroke="#000" stroke-width="7.8"/>
<line x1="126.00" y1="1904.90" x2="146.90" y2="1904.90" stroke="#000" stroke-width="7.0"/>
<text x="81.58" y="1915.70" font-size="31.60" fill="#000">0.0</text>
<line x1="126.00" y1="1817.36" x2="146.90" y2="1817.36" stroke="#000" stroke-width="7.0"/>
<text x="82.06" y="1828.16" font-size="31.60" fill="#000">0.2</text>
<line x1="126.00" y1="1729.82" x2="146.90" y2="1729.82" stroke="#000" stroke-width="7.0"/>
<text x="81.42" y="1740.62" font-size="31.60" fill="#000">0.4</text>
<line x1="126.00" y1="1642.28" x2="146.90" y2="1642.28" stroke="#000" stroke-width="7.0"/>
<text x="81.74" y="1653.08" font-size="31.60" fill="#000">0.6</text>
<line x1="126.00" y1="1554.74" x2="146.90" y2="1554.74" stroke="#000" stroke-width="7.0"/>
<text x="81.74" y="1565.54" font-size="31.60" fill="#000">0.8</text>
<line x1="126.00" y1="1467.20" x2="146.90" y2="1467.20" stroke="#000" stroke-width="7.0"/>
<text x="81.58" y="1478.00" font-size="31.60" fill="#000">1.0</text>
<line x1="220.15" y1="1904.90" x2="220.15" y2="1924.70" stroke="#000" stroke-width="7.6"/>
<text x="194.39" y="1948.80" font-size="31.70" fill="#000">WT</text>
<text x="184.51" y="1976.70" font-size="31.70" fill="#000">Cas9</text>
<line x1="379.40" y1="1904.90" x2="379.40" y2="1924.70" stroke="#000" stroke-width="7.6"/>
<text x="343.51" y="1948.80" font-size="31.70" fill="#000">Cas9</text>
<text x="347.09" y="1976.70" font-size="31.70" fill="#000">HF1</text>
<line x1="538.65" y1="1904.90" x2="538.65" y2="1924.70" stroke="#000" stroke-width="7.6"/>
<text x="495.37" y="1948.80" font-size="31.70" fill="#000">eCas9</text>
<text x="512.89" y="1976.70" font-size="31.70" fill="#000">1.1</text>
<line x1="697.90" y1="1904.90" x2="697.90" y2="1924.70" stroke="#000" stroke-width="7.6"/>
<text x="670.48" y="1948.80" font-size="31.70" fill="#000">evo</text>
<text x="661.21" y="1976.70" font-size="31.70" fill="#000">Cas9</text>
<line x1="857.15" y1="1904.90" x2="857.15" y2="1924.70" stroke="#000" stroke-width="7.6"/>
<text x="818.72" y="1948.80" font-size="31.70" fill="#000">Hypa</text>
<text x="819.91" y="1976.70" font-size="31.70" fill="#000">Cas9</text>
<text x="58.90" y="1824.16" font-size="30.75" fill="#000" transform="rotate(-90 58.90 1824.16)">Recall at 95% Precision</text>
<rect x="120.00" y="2001.00" width="46.50" height="21.60" fill="#84C4AE"/>
<text x="176.56" y="2022.60" font-size="31.00" fill="#000">all sgRNA</text>
<rect x="417.70" y="2001.00" width="46.50" height="21.60" fill="#FBAB8C"/>
<text x="474.85" y="2022.60" font-size="31.00" fill="#000">G19</text>
<rect x="631.00" y="2001.00" width="46.50" height="21.60" fill="#ABBBDB"/>
<text x="686.46" y="2022.60" font-size="31.00" fill="#000">g20</text>
<rect x="819.50" y="2001.00" width="46.50" height="21.60" fill="#ECACD6"/>
<text x="874.75" y="2022.60" font-size="31.00" fill="#000">G20</text>
</svg>
</body></html>
